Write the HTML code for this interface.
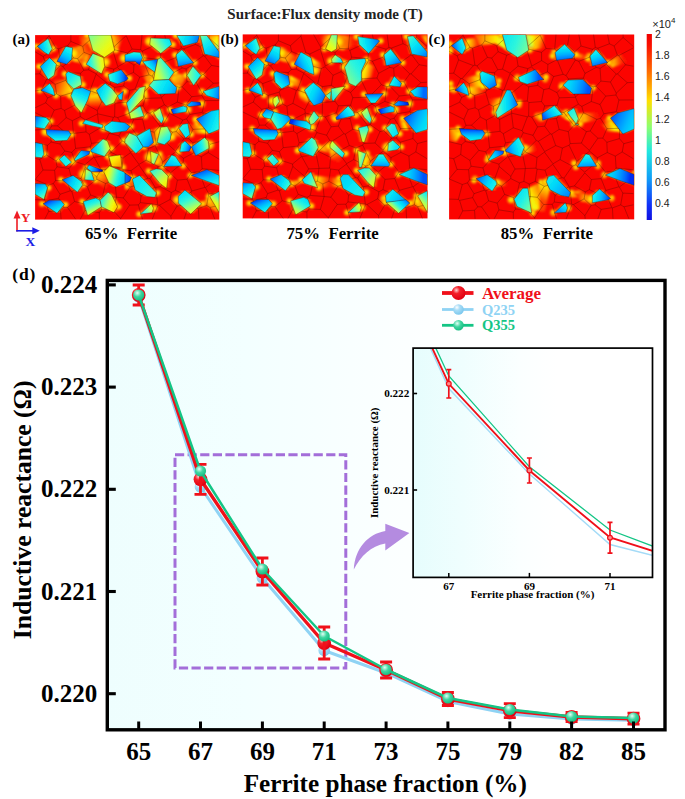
<!DOCTYPE html>
<html><head><meta charset="utf-8"><title>Figure</title>
<style>
html,body{margin:0;padding:0;background:#fff}
svg{display:block;font-family:"Liberation Serif",serif}
.tk{font-size:25px;font-weight:bold}
.ax{font-size:25px;font-weight:bold}
.pl{font-size:15px;font-weight:bold}
</style></head><body>
<svg width="685" height="799" viewBox="0 0 685 799">
<defs>
<linearGradient id="bg" x1="0" x2="1" y1="0" y2="0"><stop offset="0" stop-color="#eefefe"/><stop offset="0.25" stop-color="#f3ffff"/><stop offset="0.5" stop-color="#fbffff"/><stop offset="0.65" stop-color="#ffffff"/></linearGradient>
<linearGradient id="bg2" x1="0" x2="1" y1="0" y2="0"><stop offset="0" stop-color="#e6fdfd"/><stop offset="0.2" stop-color="#effefe"/><stop offset="0.45" stop-color="#fbffff"/><stop offset="0.6" stop-color="#ffffff"/></linearGradient>
<radialGradient id="mr" cx="0.35" cy="0.3" r="0.7"><stop offset="0" stop-color="#ffd0d0"/><stop offset="0.35" stop-color="#f4202a"/><stop offset="1" stop-color="#e00010"/></radialGradient>
<radialGradient id="mb" cx="0.35" cy="0.3" r="0.7"><stop offset="0" stop-color="#ffffff"/><stop offset="0.4" stop-color="#a8dcf6"/><stop offset="1" stop-color="#7cc8ee"/></radialGradient>
<radialGradient id="mg" cx="0.38" cy="0.32" r="0.75"><stop offset="0" stop-color="#e0fff4"/><stop offset="0.45" stop-color="#3fd6a0"/><stop offset="1" stop-color="#10b87c"/></radialGradient>
<linearGradient id="cb" x1="0" x2="0" y1="0" y2="1">
<stop offset="0" stop-color="#f00000"/><stop offset="0.06" stop-color="#fa1000"/><stop offset="0.2" stop-color="#ff6a00"/><stop offset="0.36" stop-color="#ffe000"/><stop offset="0.5" stop-color="#8cff70"/><stop offset="0.63" stop-color="#20e8e0"/><stop offset="0.78" stop-color="#109cf8"/><stop offset="0.92" stop-color="#1030f8"/><stop offset="1" stop-color="#1010e0"/></linearGradient>

</defs>
<defs>
<radialGradient id="hy"><stop offset="0" stop-color="#fff400"/><stop offset="0.3" stop-color="#ffe000"/><stop offset="0.6" stop-color="#ff9000" stop-opacity="0.85"/><stop offset="1" stop-color="#fc0400" stop-opacity="0"/></radialGradient>
<radialGradient id="ho"><stop offset="0" stop-color="#ffa000"/><stop offset="0.5" stop-color="#ff6000" stop-opacity="0.8"/><stop offset="1" stop-color="#fa0600" stop-opacity="0"/></radialGradient>
<filter id="bl" x="-5%" y="-5%" width="110%" height="110%"><feGaussianBlur stdDeviation="0.8"/></filter>
<filter id="bl3" x="-5%" y="-5%" width="110%" height="110%"><feGaussianBlur stdDeviation="1.2 0.7"/></filter>
<filter id="bl2" x="-5%" y="-5%" width="110%" height="110%"><feGaussianBlur stdDeviation="0.35"/></filter>
</defs>
<defs><path id="vor" d="M9.2 164.9L0 164.6M9.2 164.9L13.2 150M13.2 150L0 144.4M19.5 135.2L20.4 145.4M19.5 135.2L7.9 134.9M20.4 145.4L18.3 148.4M7.9 134.9L0 144.4M18.3 148.4L13.2 150M18.3 148.4L24.9 159.2M24.9 159.2L23.5 163.1M9.2 164.9L10.5 165.9M23.5 163.1L10.5 165.9M76.2 134.1L65.9 134.5M76.4 134L73.5 119.8M73.5 119.8L59.1 122.3M65.9 134.5L59.1 122.3M112.9 143.1L100.1 148.1M112.9 143.1L103.7 129.8M100.1 148.1L95.9 135.6M95.9 135.6L103.7 129.8M76.4 134L86.9 133.7M73.5 119.8L75.8 117.2M75.8 117.2L87.9 123M87.9 123L86.9 133.7M95.9 135.6L88 134.6M88 134.6L86.1 146.9M100.1 148.1L98.6 150.9M98.6 150.9L95.2 151.8M95.2 151.8L86.1 146.9M74.8 146.9L76.2 134.1M74.8 146.9L80.1 149.5M86.9 133.7L88 134.6M80.1 149.5L86.1 146.9M87.9 123L95.4 117.6M103.9 129.3L95.4 117.6M88.4 92.4L82.6 82.5M82.6 82.5L93.6 78.4M95.6 91.7L88.4 92.4M95.6 91.7L98.4 84.7M98.4 84.7L93.6 78.4M126.4 62.8L110.1 63.3M126.5 62.4L119 46.6M119 46.6L107.9 58.1M107.9 58.1L110.1 63.3M161.3 47.5L167.2 58.6M166.9 60.5L167.2 58.6M151.8 46.6L147.1 51.7M161.3 47.5L151.8 46.6M166.9 60.5L156.6 61.6M156.6 61.6L147.1 51.7M35.2 155.7L31.8 145.9M35.2 155.7L36.7 156.3M36.7 156.3L49.1 150.1M35.8 140.7L31.8 145.9M35.8 140.7L45.9 143.6M45.9 143.6L49.1 150.1M24.9 159.2L35.2 155.7M20.4 145.4L31.8 145.9M61.7 141.8L50.1 132M50.1 132L45.9 143.6M49.1 150.1L52.3 151.6M61.7 141.8L61.7 144.1M52.3 151.6L61.7 144.1M65.9 134.5L61.7 141.8M74.8 146.9L70.4 148.4M70.4 148.4L61.7 144.1M39.5 166.4L36.7 156.3M39.5 166.4L32.4 172.3M23.5 163.1L28.6 172.3M32.4 172.3L28.6 172.3M155.9 157.3L162.8 173.2M162.8 173.2L152.1 174.9M149.7 159.6L146.1 170.3M155.9 157.3L149.7 159.6M152.1 174.9L146.1 170.3M135 164.4L142 170.9M135 164.4L124.3 170.1M142 170.9L135.8 181.1M135.8 181.1L124.3 170.1M50.1 132L49.8 129.6M58.7 122.2L49.8 129.6M88.4 92.4L83.9 100.8M87.1 106L83.9 100.8M87.1 106L89.3 106.8M95.6 91.7L101.2 99.3M101.2 99.3L89.3 106.8M87.1 106L75.8 117.2M89.3 106.8L95.5 117.1M107.9 70.8L95.6 71.4M95.6 71.4L92.4 67M107.9 70.8L110.1 63.3M107.9 58.1L99.9 54M99.9 54L94.7 55.1M94.7 55.1L92.4 67M93.6 78.4L95.6 71.4M79.5 81.7L79.8 68.1M82.6 82.5L79.5 81.7M92.4 67L79.8 68.1M156.6 61.6L150.9 70M144.1 52.3L147.1 51.7M144.1 52.3L142.2 67M150.9 70L142.2 67M138.7 50.3L126.5 62.4M129.3 69.7L132.7 71.9M129.3 69.7L126.4 62.8M138.7 50.3L144.1 52.3M132.7 71.9L142.2 67M119 46.6L119.3 44.4M138.7 50.3L134.3 43.6M119.3 44.4L134.3 43.6M147.1 32.9L135.9 38.9M151 33.8L147.1 32.9M151.8 46.6L151 33.8M135.9 38.9L134.3 43.6M161.3 47.5L167.1 39.5M151 33.8L157.2 29.8M157.2 29.8L167.1 39.5M178.2 48.2L168.4 39.5M178.2 48.2L167.2 58.6M167.1 39.5L168.4 39.5M174 3L184.3 12M174 3L174 0M39.5 166.4L48.1 168.6M52.3 151.6L55.5 159.9M55.5 159.9L48.1 168.6M45.1 184.3L49.8 175.4M32.4 172.3L40.7 184.3M49.8 175.4L48.1 168.6M122.6 169.6L120.6 152.3M122.6 169.6L105.2 167.5M105.9 160.9L105.2 167.5M105.9 160.9L120 152M88.2 162.8L94.6 170M95.2 151.8L88.2 162.8M98.6 150.9L105.9 160.9M94.6 170L103.2 169.8M103.2 169.8L105.2 167.5M114.9 143.6L120 152M112.9 143.1L114.9 143.6M124.3 170.1L122.9 170M135 164.4L136.2 157.4M120.6 152.3L125.3 151.5M125.3 151.5L136.2 157.4M149.7 159.6L140.3 155.2M142 170.9L146.1 170.3M140.3 155.2L136.2 157.4M163.3 173.4L163.9 184.3M152.1 174.9L148.8 184.3M122.9 170L117.1 184.3M135.8 181.1L136.1 184.3M103.2 169.8L107.4 184.3M79.5 81.7L78.3 82.3M78.3 82.3L62.6 78.7M62.6 78.7L62.2 75.4M79.8 68.1L78.2 66.5M78.2 66.5L66.5 66.9M62.2 75.4L66.5 66.9M58.7 122.2L55.2 111.7M40.5 113.3L55.2 111.7M40.5 113.3L36.7 117.3M49.8 129.6L40 126.5M36.7 117.3L40 126.5M19.5 135.2L21.9 131.7M35.8 140.7L33.9 133.4M21.9 131.7L33.9 133.4M33.9 133.4L40 126.5M7.9 134.9L4.6 124.2M4.6 124.2L0 123.4M77.9 12.5L70.8 0M77.9 12.5L91.1 0.6M88.6 50.9L79.6 52.3M88.6 50.9L90.3 40.9M90.3 40.9L82.4 32.3M75 49.5L79.6 52.3M75 49.5L78.7 34.1M78.7 34.1L82.4 32.3M94.7 55.1L88.6 50.9M78.2 66.5L79.6 52.3M62.8 58.5L66.5 66.9M73.8 49.5L62.8 58.5M73.8 49.5L75 49.5M101.2 99.3L102.6 99.7M95.5 117.1L106.6 111.1M106.6 111.1L102.6 99.7M129.7 0L131.9 11.5M146.2 13L144.4 0M146.2 13L143.4 14.8M131.9 11.5L143.4 14.8M147.1 32.9L140.3 22.8M135.9 38.9L129.7 26.8M140.3 22.8L129.7 26.8M106.9 0L105.6 14.6M91.1 0.6L97 14M105.6 14.6L97 14M77.8 14.2L92.4 17.9M77.5 14.6L82.7 31.6M82.7 31.6L92.5 26.1M92.5 26.1L92.4 17.9M77.8 14.2L77.9 12.5M92.4 17.9L97 14M169.6 21.1L184.3 13.4M169.6 21.1L176.4 30.3M176.4 30.3L184.3 31.7M160.3 9.3L148.7 13.7M160.3 9.3L165 11.5M165 11.5L168.2 20.6M148.7 13.7L157.8 28.2M157.8 28.2L168.2 20.6M146.2 13L148.7 13.7M158.5 0L160.3 9.3M174 3L165 11.5M169.6 21.1L168.2 20.6M140.3 22.8L143.4 14.8M157.2 29.8L157.8 28.2M168.4 39.5L176.4 30.3M56.4 108.3L54.2 99.2M56.4 108.3L70.1 106.5M54.2 99.2L64.2 93.3M64.2 93.3L73 96.2M70.1 106.5L74.1 98.2M74.1 98.2L73 96.2M55.2 111.7L56.4 108.3M75.8 117.2L70.1 106.5M62.4 79L64.2 93.3M78.3 82.3L73 96.2M83.9 100.8L74.1 98.2M64.2 177.6L64.3 184.3M49.8 175.4L64.2 177.6M94.6 170L85.5 183.4M85.5 183.4L85.6 184.3M67.5 161L64.4 163.1M67.5 161L81.4 162.1M64.4 163.1L66.4 174.6M66.4 174.6L77.7 175M77.7 175L81.4 162.1M70.4 148.4L67.5 161M55.5 159.9L64.4 163.1M80.1 149.5L81.4 162.1M64.2 177.6L66.4 174.6M85.5 183.4L77.7 175M88.2 162.8L81.4 162.1M25.4 175.8L26 184.3M25.4 175.8L13.6 176.4M13.6 176.4L9.5 184.3M28.6 172.3L25.4 175.8M10.5 165.9L13.6 176.4M174.9 172.3L179.8 184.3M174.9 172.3L184.3 170.3M163.3 173.4L171.6 170.4M171.6 170.4L174.9 172.3M170.3 152.5L184.3 142.1M173.7 158.6L184.3 159.1M170.3 152.5L173.7 158.6M171.6 170.4L173.7 158.6M35.7 6.3L35.8 0M35.7 6.3L47.7 11.3M47.7 11.3L58.2 1.7M58.2 1.7L58.7 0M20.8 12.8L14 1M20.8 12.8L23.4 13.7M23.4 13.7L32.7 10.4M32.7 10.4L35.7 6.3M14 1L14 0M77.5 14.6L67.1 19.6M58.2 1.7L63.2 18.4M67.1 19.6L63.2 18.4M78.7 34.1L69 31.6M67.1 19.6L69 31.6M14 1L0 13.3M184.3 135.3L167 133.6M167 133.6L166.2 121.6M166.2 121.6L173.1 117.5M173.1 117.5L184.3 124.3M148.3 123.2L158.2 118M158.2 118L157.7 107.8M140.3 115.9L148.8 103.7M140.5 116.7L148.3 123.2M148.8 103.7L153.7 103.6M157.7 107.8L153.7 103.6M158.2 118L166.2 121.6M173.1 117.5L174.7 109.2M174.7 109.2L170.3 104.1M157.7 107.8L170.3 104.1M113.3 113.5L120 110.7M113.3 113.5L111 125.1M120 110.7L127.7 126.8M111 125.1L123.2 131.6M127.7 126.8L126.8 130.4M123.2 131.6L126.8 130.4M103.9 129.3L111 125.1M106.6 111.1L113.3 113.5M114.9 143.6L123.2 131.6M98.4 84.7L107.4 84.1M102.6 99.7L110 94.9M110 94.9L107.4 84.1M107.9 70.8L111.9 77.6M107.4 84.1L111.9 77.6M129.3 69.7L114.8 78M114.8 78L111.9 77.6M132.3 108.6L121.1 109.1M132.3 108.6L137.3 97.1M121.1 109.1L119.2 97.1M137.3 97.1L127.5 90.2M119.2 97.1L124.8 90.9M127.5 90.2L124.8 90.9M140.5 116.7L127.7 126.8M140.3 115.9L132.3 108.6M120 110.7L121.1 109.1M141.1 96.5L137.3 97.1M148.8 103.7L141.1 96.5M110 94.9L119.2 97.1M141.1 96.5L147.7 84.9M134.4 78.2L147.7 84.9M134.4 78.2L127.5 90.2M114.8 78L124.8 90.9M132.7 71.9L134.4 78.2M126.8 130.4L135.6 137.6M148.3 123.2L148.1 127.2M148.1 127.2L135.6 137.6M125.3 151.5L135.7 138.4M140.3 155.2L142.3 145M142.3 145L135.7 138.4M174.7 109.2L184.3 106.6M170.3 104.1L170.5 94.8M170.5 94.8L184.3 92M169.8 65.5L184.3 65.4M166.9 60.5L169.8 65.5M178.2 48.2L184.3 47.8M120.2 0L118.5 10.7M131.9 11.5L125.7 17.2M125.7 17.2L118.5 10.7M105.6 14.6L107.2 16M118.5 10.7L107.2 16M14.6 94L16.8 90.8M14.6 94L0 94.9M0 77.5L14.8 84.8M14.8 84.8L16.8 90.8M23.4 13.7L25.8 30.7M32.7 10.4L38.3 22.9M38.3 22.9L27.9 31.4M27.9 31.4L25.8 30.7M9.5 25.4L4.6 38.7M4.6 38.7L11.6 44M9.5 25.4L24.3 31.1M11.6 44L13.1 44M24.3 31.1L13.1 44M8.1 21.4L9.5 25.4M20.8 12.8L8.1 21.4M24.3 31.1L25.8 30.7M11.6 44L6.6 54.6M6.6 54.6L12.5 62.9M12.5 62.9L21.5 58.8M21.5 58.8L20 49.2M13.1 44L20 49.2M47.7 11.3L48.9 17.2M63.2 18.4L57.6 20.8M48.9 17.2L57.6 20.8M38.3 22.9L42.6 23.6M48.9 17.2L42.6 23.6M8.1 21.4L0 16.7M37.2 85.6L45.2 81.5M37.2 85.6L38.3 98M50.9 96.8L38.8 98.3M50.9 96.8L50.5 84.9M50.5 84.9L45.2 81.5M31.1 82.5L22.4 90.7M31.9 98.9L22.4 90.7M31.1 82.5L37.2 85.6M31.9 98.9L38.3 98M54.2 99.2L50.9 96.8M40.5 113.3L38.8 98.3M62.4 79L50.5 84.9M62.2 75.4L50.2 69M50.2 69L44.2 71.8M44.2 71.8L45.2 81.5M57.6 20.8L53.4 34.7M42.6 23.6L48.7 35.2M48.7 35.2L53.4 34.7M62.8 58.5L54.8 55.6M50.2 69L53.6 55.9M54.8 55.6L53.6 55.9M73.8 49.5L61 39.1M54.8 55.6L61 39.1M69 31.6L60.8 38.6M53.4 34.7L60.8 38.6M25.5 61L36.5 57.7M25.5 61L26 73.3M36.5 57.7L40.1 69.8M40.1 69.8L29.4 75.3M26 73.3L29.4 75.3M19.1 75L26 73.3M10.6 67.7L19.1 75M21.5 58.8L25.5 61M12.5 62.9L10.6 67.7M31.1 82.5L29.4 75.3M44.2 71.8L40.1 69.8M19.1 75L14.8 84.8M16.8 90.8L22.4 90.7M12.4 110.2L11.6 120M12.4 110.2L16.1 107M16.1 107L24.9 108.9M20.9 125.9L29.7 115.9M20.9 125.9L11.6 120M29.7 115.9L24.9 108.9M0 107.2L12.4 110.2M4.6 124.2L11.6 120M14.6 94L16.1 107M31.9 98.9L24.9 108.9M36.7 117.3L29.7 115.9M21.9 131.7L20.9 125.9M169.5 93.8L157.8 94.2M169.5 93.8L167.8 77.8M157.8 94.2L151.4 83.8M167.2 77.2L154.7 79.3M154.7 79.3L151.4 83.8M153.7 103.6L157.8 94.2M170.5 94.8L169.5 93.8M184.3 81.3L167.8 77.8M147.7 84.9L151.4 83.8M169.8 65.5L167.2 77.2M150.9 70L154.7 79.3M164.1 136.7L156.3 137.5M164.1 136.7L169.8 152.3M156.3 137.5L152 144.1M152 144.1L156.8 155.9M156.8 155.9L169.8 152.3M167 133.6L164.1 136.7M148.1 127.2L156.3 137.5M142.3 145L152 144.1M155.9 157.3L156.8 155.9M129.7 26.8L126.2 25.6M125.7 17.2L125.4 24.3M126.2 25.6L125.4 24.3M119.3 44.4L117 41M126.2 25.6L117 41M107.2 16L108.9 22.7M125.4 24.3L108.9 22.7M10.6 67.7L0 72.7M37.7 55.6L30.6 45.3M37.7 55.6L45.4 52.6M45.4 52.6L45.5 38.1M45.5 38.1L32.3 37.6M32.3 37.6L30.6 45.3M36.5 57.7L37.7 55.6M20 49.2L30.6 45.3M53.6 55.9L45.4 52.6M48.7 35.2L45.5 38.1M27.9 31.4L32.3 37.6M98.8 29.9L108 25.1M98.8 29.9L98.4 37.3M108 25.1L114 39.8M98.4 37.3L104.6 42M104.6 42L114 39.8M92.5 26.1L98.8 29.9M108.9 22.7L108 25.1M90.3 40.9L98.4 37.3M117 41L114 39.8M99.9 54L104.6 42M6.6 54.6L0 55.9M4.6 38.7L0 38.9" fill="none" stroke="#3a0800" stroke-width="0.45" stroke-opacity="0.7"/></defs>
<defs><clipPath id="cpa"><rect x="35.1" y="35.1" width="184.2" height="184.5"/></clipPath><linearGradient id="g1" gradientUnits="userSpaceOnUse" x1="38" y1="47.2" x2="51.9" y2="44.6"><stop offset="0%" stop-color="#0090ff"/><stop offset="20%" stop-color="#00bbfe"/><stop offset="40%" stop-color="#02dbf7"/><stop offset="60%" stop-color="#13ecef"/><stop offset="80%" stop-color="#40f7cc"/><stop offset="100%" stop-color="#87fe87"/></linearGradient><linearGradient id="g2" gradientUnits="userSpaceOnUse" x1="59.2" y1="62.1" x2="68.7" y2="47.5"><stop offset="0%" stop-color="#0060ff"/><stop offset="20%" stop-color="#0090ff"/><stop offset="40%" stop-color="#00b8ff"/><stop offset="60%" stop-color="#00d8f8"/><stop offset="80%" stop-color="#0ae8f4"/><stop offset="100%" stop-color="#28f4e2"/></linearGradient><linearGradient id="g3" gradientUnits="userSpaceOnUse" x1="78.9" y1="40.2" x2="91.3" y2="43.1"><stop offset="0%" stop-color="#ff2000"/><stop offset="25%" stop-color="#ff4600"/><stop offset="50%" stop-color="#ff7c00"/><stop offset="75%" stop-color="#ffaf00"/><stop offset="100%" stop-color="#ffdc00"/></linearGradient><linearGradient id="g4" gradientUnits="userSpaceOnUse" x1="112.5" y1="43.1" x2="123.4" y2="40.2"><stop offset="0%" stop-color="#ffdc00"/><stop offset="20%" stop-color="#ffb400"/><stop offset="40%" stop-color="#ff8800"/><stop offset="60%" stop-color="#ff5800"/><stop offset="80%" stop-color="#ff3000"/><stop offset="100%" stop-color="#fc1300"/></linearGradient><linearGradient id="g5" gradientUnits="userSpaceOnUse" x1="91.3" y1="36.6" x2="113.2" y2="54.1"><stop offset="0%" stop-color="#87fe87"/><stop offset="33.3%" stop-color="#c0ff49"/><stop offset="66.7%" stop-color="#e9fb16"/><stop offset="100%" stop-color="#ffe800"/></linearGradient><linearGradient id="g6" gradientUnits="userSpaceOnUse" x1="73.1" y1="54.8" x2="88.4" y2="49"><stop offset="0%" stop-color="#fff000"/><stop offset="20%" stop-color="#ffcc00"/><stop offset="40%" stop-color="#ffa800"/><stop offset="60%" stop-color="#ff7e00"/><stop offset="80%" stop-color="#ff5300"/><stop offset="100%" stop-color="#ff3000"/></linearGradient><linearGradient id="g7" gradientUnits="userSpaceOnUse" x1="78.2" y1="59.2" x2="88.4" y2="61.4"><stop offset="0%" stop-color="#ff2000"/><stop offset="25%" stop-color="#ff4600"/><stop offset="50%" stop-color="#ff7c00"/><stop offset="75%" stop-color="#ffaf00"/><stop offset="100%" stop-color="#ffdc00"/></linearGradient><linearGradient id="g8" gradientUnits="userSpaceOnUse" x1="87.7" y1="65" x2="104.2" y2="62.8"><stop offset="0%" stop-color="#10eaf0"/><stop offset="20%" stop-color="#2ff5db"/><stop offset="40%" stop-color="#67fca7"/><stop offset="60%" stop-color="#a7ff67"/><stop offset="80%" stop-color="#daff28"/><stop offset="100%" stop-color="#f9f306"/></linearGradient><linearGradient id="g9" gradientUnits="userSpaceOnUse" x1="40.9" y1="66.5" x2="55.1" y2="73.8"><stop offset="0%" stop-color="#00a4ff"/><stop offset="20%" stop-color="#00c8fc"/><stop offset="40%" stop-color="#05e0f6"/><stop offset="60%" stop-color="#19eeeb"/><stop offset="80%" stop-color="#46f8c6"/><stop offset="100%" stop-color="#87fe87"/></linearGradient><linearGradient id="g10" gradientUnits="userSpaceOnUse" x1="66.5" y1="73.5" x2="79.6" y2="88.1"><stop offset="0%" stop-color="#02dbf7"/><stop offset="25%" stop-color="#0eeaf1"/><stop offset="50%" stop-color="#2ef5dc"/><stop offset="75%" stop-color="#67fca7"/><stop offset="100%" stop-color="#aaff64"/></linearGradient><linearGradient id="g11" gradientUnits="userSpaceOnUse" x1="42.4" y1="92" x2="51.9" y2="86.2"><stop offset="0%" stop-color="#0060ff"/><stop offset="20%" stop-color="#0090ff"/><stop offset="40%" stop-color="#00b8ff"/><stop offset="60%" stop-color="#00d8f8"/><stop offset="80%" stop-color="#0ae8f4"/><stop offset="100%" stop-color="#28f4e2"/></linearGradient><linearGradient id="g12" gradientUnits="userSpaceOnUse" x1="72.3" y1="91.3" x2="56.3" y2="85.5"><stop offset="0%" stop-color="#fff000"/><stop offset="25%" stop-color="#ffc800"/><stop offset="50%" stop-color="#ffa000"/><stop offset="75%" stop-color="#ff7000"/><stop offset="100%" stop-color="#ff4000"/></linearGradient><linearGradient id="g13" gradientUnits="userSpaceOnUse" x1="88.4" y1="90.1" x2="78.9" y2="111.8"><stop offset="0%" stop-color="#00a4ff"/><stop offset="14.3%" stop-color="#00c7fc"/><stop offset="28.6%" stop-color="#04dff6"/><stop offset="42.9%" stop-color="#15eced"/><stop offset="57.1%" stop-color="#3cf7d0"/><stop offset="71.4%" stop-color="#78fd96"/><stop offset="85.7%" stop-color="#b7ff53"/><stop offset="100%" stop-color="#e6fc1a"/></linearGradient><linearGradient id="g14" gradientUnits="userSpaceOnUse" x1="95" y1="94.2" x2="95.7" y2="107.4"><stop offset="0%" stop-color="#fff000"/><stop offset="16.7%" stop-color="#ffcb00"/><stop offset="33.3%" stop-color="#ffa700"/><stop offset="50%" stop-color="#ff7c00"/><stop offset="66.7%" stop-color="#ff5000"/><stop offset="83.3%" stop-color="#ff2d00"/><stop offset="100%" stop-color="#fc1300"/></linearGradient><linearGradient id="g15" gradientUnits="userSpaceOnUse" x1="97.2" y1="91.3" x2="116.4" y2="98.6"><stop offset="0%" stop-color="#00befe"/><stop offset="16.7%" stop-color="#02dbf7"/><stop offset="33.3%" stop-color="#0eeaf2"/><stop offset="50%" stop-color="#2ef5dc"/><stop offset="66.7%" stop-color="#69fca5"/><stop offset="83.3%" stop-color="#acff62"/><stop offset="100%" stop-color="#e0ff20"/></linearGradient><linearGradient id="g16" gradientUnits="userSpaceOnUse" x1="108.1" y1="77.4" x2="125.6" y2="78.2"><stop offset="0%" stop-color="#64fcaa"/><stop offset="14.3%" stop-color="#2cf5de"/><stop offset="28.6%" stop-color="#0eeaf1"/><stop offset="42.9%" stop-color="#02dbf7"/><stop offset="57.1%" stop-color="#00c1fd"/><stop offset="71.4%" stop-color="#009eff"/><stop offset="85.7%" stop-color="#0075ff"/><stop offset="100%" stop-color="#0040f8"/></linearGradient><linearGradient id="g17" gradientUnits="userSpaceOnUse" x1="118.3" y1="95.7" x2="122.7" y2="94.2"><stop offset="0%" stop-color="#0ae8f4"/><stop offset="33.3%" stop-color="#00d8f8"/><stop offset="66.7%" stop-color="#00b8ff"/><stop offset="100%" stop-color="#0090ff"/></linearGradient><linearGradient id="g18" gradientUnits="userSpaceOnUse" x1="35.8" y1="117.6" x2="49" y2="124.2"><stop offset="0%" stop-color="#0060ff"/><stop offset="16.7%" stop-color="#0091ff"/><stop offset="33.3%" stop-color="#00baff"/><stop offset="50%" stop-color="#01daf8"/><stop offset="66.7%" stop-color="#0eeaf2"/><stop offset="83.3%" stop-color="#32f5d9"/><stop offset="100%" stop-color="#72fd9c"/></linearGradient><linearGradient id="g19" gradientUnits="userSpaceOnUse" x1="84" y1="122" x2="101.5" y2="127.8"><stop offset="0%" stop-color="#05e0f6"/><stop offset="50%" stop-color="#12ebf0"/><stop offset="100%" stop-color="#28f4e2"/></linearGradient><linearGradient id="g20" gradientUnits="userSpaceOnUse" x1="105.9" y1="126.4" x2="129.3" y2="124.9"><stop offset="0%" stop-color="#19eeeb"/><stop offset="33.3%" stop-color="#03ddf7"/><stop offset="66.7%" stop-color="#00bdfe"/><stop offset="100%" stop-color="#0090ff"/></linearGradient><linearGradient id="g21" gradientUnits="userSpaceOnUse" x1="168.1" y1="39.5" x2="153.5" y2="49"><stop offset="0%" stop-color="#0ae8f4"/><stop offset="25%" stop-color="#26f3e3"/><stop offset="50%" stop-color="#5efbb0"/><stop offset="75%" stop-color="#a0ff6e"/><stop offset="100%" stop-color="#d5ff2e"/></linearGradient><linearGradient id="g22" gradientUnits="userSpaceOnUse" x1="178.3" y1="37.3" x2="197.7" y2="41.7"><stop offset="0%" stop-color="#28f4e2"/><stop offset="25%" stop-color="#09e6f4"/><stop offset="50%" stop-color="#00d0fa"/><stop offset="75%" stop-color="#00a9ff"/><stop offset="100%" stop-color="#0078ff"/></linearGradient><linearGradient id="g23" gradientUnits="userSpaceOnUse" x1="207.5" y1="35.8" x2="218.4" y2="46.1"><stop offset="0%" stop-color="#ff7000"/><stop offset="20%" stop-color="#ffa000"/><stop offset="40%" stop-color="#ffc800"/><stop offset="60%" stop-color="#fff000"/><stop offset="80%" stop-color="#e0ff20"/><stop offset="100%" stop-color="#aaff64"/></linearGradient><linearGradient id="g24" gradientUnits="userSpaceOnUse" x1="200.9" y1="37.3" x2="218.4" y2="57.4"><stop offset="0%" stop-color="#64fcaa"/><stop offset="16.7%" stop-color="#2df5dd"/><stop offset="33.3%" stop-color="#0feaf1"/><stop offset="50%" stop-color="#03dcf7"/><stop offset="66.7%" stop-color="#00c3fd"/><stop offset="83.3%" stop-color="#00a1ff"/><stop offset="100%" stop-color="#0078ff"/></linearGradient><linearGradient id="g25" gradientUnits="userSpaceOnUse" x1="133.8" y1="51.9" x2="133.8" y2="62.8"><stop offset="0%" stop-color="#46f8c6"/><stop offset="16.7%" stop-color="#19eeeb"/><stop offset="33.3%" stop-color="#05e0f6"/><stop offset="50%" stop-color="#00c8fc"/><stop offset="66.7%" stop-color="#00a4ff"/><stop offset="83.3%" stop-color="#0078ff"/><stop offset="100%" stop-color="#0040f8"/></linearGradient><linearGradient id="g26" gradientUnits="userSpaceOnUse" x1="154.9" y1="59.6" x2="146.9" y2="66.2"><stop offset="0%" stop-color="#0060ff"/><stop offset="20%" stop-color="#0090ff"/><stop offset="40%" stop-color="#00b8ff"/><stop offset="60%" stop-color="#00d8f8"/><stop offset="80%" stop-color="#0ae8f4"/><stop offset="100%" stop-color="#28f4e2"/></linearGradient><linearGradient id="g27" gradientUnits="userSpaceOnUse" x1="154.2" y1="76.7" x2="142.5" y2="72.3"><stop offset="0%" stop-color="#fff000"/><stop offset="20%" stop-color="#ffc800"/><stop offset="40%" stop-color="#ffa000"/><stop offset="60%" stop-color="#ff7000"/><stop offset="80%" stop-color="#ff4000"/><stop offset="100%" stop-color="#ff2000"/></linearGradient><linearGradient id="g28" gradientUnits="userSpaceOnUse" x1="153.9" y1="78.9" x2="173.5" y2="71.6"><stop offset="0%" stop-color="#f9f306"/><stop offset="20%" stop-color="#daff28"/><stop offset="40%" stop-color="#a7ff67"/><stop offset="60%" stop-color="#67fca7"/><stop offset="80%" stop-color="#2ff5db"/><stop offset="100%" stop-color="#10eaf0"/></linearGradient><linearGradient id="g29" gradientUnits="userSpaceOnUse" x1="180.5" y1="50.4" x2="183.4" y2="67.2"><stop offset="0%" stop-color="#46f8c6"/><stop offset="16.7%" stop-color="#1cefea"/><stop offset="33.3%" stop-color="#07e3f5"/><stop offset="50%" stop-color="#00d0fa"/><stop offset="66.7%" stop-color="#00b1ff"/><stop offset="83.3%" stop-color="#008cff"/><stop offset="100%" stop-color="#0060ff"/></linearGradient><linearGradient id="g30" gradientUnits="userSpaceOnUse" x1="173.2" y1="75.3" x2="183.4" y2="86.9"><stop offset="0%" stop-color="#ffdc00"/><stop offset="25%" stop-color="#ffb900"/><stop offset="50%" stop-color="#ff9400"/><stop offset="75%" stop-color="#ff6a00"/><stop offset="100%" stop-color="#ff4000"/></linearGradient><linearGradient id="g31" gradientUnits="userSpaceOnUse" x1="187.5" y1="75.3" x2="200.6" y2="75.3"><stop offset="0%" stop-color="#9cfe72"/><stop offset="33.3%" stop-color="#60fbae"/><stop offset="66.7%" stop-color="#2cf5de"/><stop offset="100%" stop-color="#10eaf0"/></linearGradient><linearGradient id="g32" gradientUnits="userSpaceOnUse" x1="151.3" y1="81.8" x2="175.8" y2="93.9"><stop offset="0%" stop-color="#64fcaa"/><stop offset="20%" stop-color="#2af4e0"/><stop offset="40%" stop-color="#0ce9f3"/><stop offset="60%" stop-color="#01daf8"/><stop offset="80%" stop-color="#00bdfe"/><stop offset="100%" stop-color="#0098ff"/></linearGradient><linearGradient id="g33" gradientUnits="userSpaceOnUse" x1="130.8" y1="94.2" x2="143.2" y2="100.1"><stop offset="0%" stop-color="#0ae8f4"/><stop offset="20%" stop-color="#27f4e3"/><stop offset="40%" stop-color="#5ffbae"/><stop offset="60%" stop-color="#a2ff6c"/><stop offset="80%" stop-color="#d7ff2b"/><stop offset="100%" stop-color="#f9f306"/></linearGradient><linearGradient id="g34" gradientUnits="userSpaceOnUse" x1="144" y1="95.7" x2="149.1" y2="100.1"><stop offset="0%" stop-color="#fff000"/><stop offset="20%" stop-color="#ffc800"/><stop offset="40%" stop-color="#ffa000"/><stop offset="60%" stop-color="#ff7000"/><stop offset="80%" stop-color="#ff4000"/><stop offset="100%" stop-color="#ff2000"/></linearGradient><linearGradient id="g35" gradientUnits="userSpaceOnUse" x1="141.8" y1="108.8" x2="130.1" y2="118.3"><stop offset="0%" stop-color="#28f4e2"/><stop offset="33.3%" stop-color="#69fca5"/><stop offset="66.7%" stop-color="#b1ff5b"/><stop offset="100%" stop-color="#e6fc1a"/></linearGradient><linearGradient id="g36" gradientUnits="userSpaceOnUse" x1="203.5" y1="92" x2="219.2" y2="94.2"><stop offset="0%" stop-color="#34f6d7"/><stop offset="20%" stop-color="#12ebef"/><stop offset="40%" stop-color="#03ddf7"/><stop offset="60%" stop-color="#00c4fc"/><stop offset="80%" stop-color="#00a2ff"/><stop offset="100%" stop-color="#0078ff"/></linearGradient><linearGradient id="g37" gradientUnits="userSpaceOnUse" x1="187.8" y1="105.2" x2="200.2" y2="103.7"><stop offset="0%" stop-color="#00b8ff"/><stop offset="33.3%" stop-color="#0090ff"/><stop offset="66.7%" stop-color="#0060ff"/><stop offset="100%" stop-color="#0020f0"/></linearGradient><linearGradient id="g38" gradientUnits="userSpaceOnUse" x1="171.4" y1="110.3" x2="186.6" y2="109.1"><stop offset="0%" stop-color="#002df3"/><stop offset="16.7%" stop-color="#0066ff"/><stop offset="33.3%" stop-color="#0093ff"/><stop offset="50%" stop-color="#00b8ff"/><stop offset="66.7%" stop-color="#00d6f8"/><stop offset="83.3%" stop-color="#09e6f5"/><stop offset="100%" stop-color="#22f2e6"/></linearGradient><linearGradient id="g39" gradientUnits="userSpaceOnUse" x1="197.7" y1="118.3" x2="218.4" y2="126.4"><stop offset="0%" stop-color="#0060ff"/><stop offset="20%" stop-color="#0090ff"/><stop offset="40%" stop-color="#00b8ff"/><stop offset="60%" stop-color="#00d8f8"/><stop offset="80%" stop-color="#0ae8f4"/><stop offset="100%" stop-color="#28f4e2"/></linearGradient><linearGradient id="g40" gradientUnits="userSpaceOnUse" x1="154.2" y1="113.2" x2="163" y2="119.1"><stop offset="0%" stop-color="#e0ff20"/><stop offset="33.3%" stop-color="#aaff64"/><stop offset="66.7%" stop-color="#64fcaa"/><stop offset="100%" stop-color="#28f4e2"/></linearGradient><linearGradient id="g41" gradientUnits="userSpaceOnUse" x1="197.3" y1="123.4" x2="192.9" y2="124.9"><stop offset="0%" stop-color="#fff000"/><stop offset="20%" stop-color="#ffcc00"/><stop offset="40%" stop-color="#ffa800"/><stop offset="60%" stop-color="#ff7e00"/><stop offset="80%" stop-color="#ff5300"/><stop offset="100%" stop-color="#ff3000"/></linearGradient><linearGradient id="g42" gradientUnits="userSpaceOnUse" x1="57.7" y1="129.7" x2="57.7" y2="141.4"><stop offset="0%" stop-color="#0053fc"/><stop offset="20%" stop-color="#008aff"/><stop offset="40%" stop-color="#00b6ff"/><stop offset="60%" stop-color="#00d9f8"/><stop offset="80%" stop-color="#0ee9f2"/><stop offset="100%" stop-color="#34f6d7"/></linearGradient><linearGradient id="g43" gradientUnits="userSpaceOnUse" x1="35.5" y1="144" x2="43.4" y2="154.9"><stop offset="0%" stop-color="#00a4ff"/><stop offset="33.3%" stop-color="#00cdfa"/><stop offset="66.7%" stop-color="#08e5f5"/><stop offset="100%" stop-color="#28f4e2"/></linearGradient><linearGradient id="g44" gradientUnits="userSpaceOnUse" x1="91.3" y1="151" x2="110" y2="148.4"><stop offset="0%" stop-color="#00a4ff"/><stop offset="14.3%" stop-color="#00c7fc"/><stop offset="28.6%" stop-color="#04dff6"/><stop offset="42.9%" stop-color="#15eced"/><stop offset="57.1%" stop-color="#3cf7d0"/><stop offset="71.4%" stop-color="#78fd96"/><stop offset="85.7%" stop-color="#b7ff53"/><stop offset="100%" stop-color="#e6fc1a"/></linearGradient><linearGradient id="g45" gradientUnits="userSpaceOnUse" x1="87.7" y1="152" x2="75.3" y2="160.3"><stop offset="0%" stop-color="#0060ff"/><stop offset="20%" stop-color="#0090ff"/><stop offset="40%" stop-color="#00b8ff"/><stop offset="60%" stop-color="#00d8f8"/><stop offset="80%" stop-color="#0ae8f4"/><stop offset="100%" stop-color="#28f4e2"/></linearGradient><linearGradient id="g46" gradientUnits="userSpaceOnUse" x1="59.9" y1="159.3" x2="70.9" y2="162.2"><stop offset="0%" stop-color="#0ae8f4"/><stop offset="100%" stop-color="#28f4e2"/></linearGradient><linearGradient id="g47" gradientUnits="userSpaceOnUse" x1="111" y1="156.4" x2="120.5" y2="168.1"><stop offset="0%" stop-color="#e0ff20"/><stop offset="33.3%" stop-color="#ffe900"/><stop offset="66.7%" stop-color="#ffbb00"/><stop offset="100%" stop-color="#ff8800"/></linearGradient><linearGradient id="g48" gradientUnits="userSpaceOnUse" x1="87.2" y1="168.1" x2="101.8" y2="171.1"><stop offset="0%" stop-color="#0ae8f4"/><stop offset="16.7%" stop-color="#00d8f8"/><stop offset="33.3%" stop-color="#00b8ff"/><stop offset="50%" stop-color="#0090ff"/><stop offset="66.7%" stop-color="#0060ff"/><stop offset="83.3%" stop-color="#0020f0"/><stop offset="100%" stop-color="#000bc5"/></linearGradient><linearGradient id="g49" gradientUnits="userSpaceOnUse" x1="95.7" y1="172.4" x2="104.5" y2="186.3"><stop offset="0%" stop-color="#fff000"/><stop offset="20%" stop-color="#ffc800"/><stop offset="40%" stop-color="#ffa000"/><stop offset="60%" stop-color="#ff7000"/><stop offset="80%" stop-color="#ff4000"/><stop offset="100%" stop-color="#ff2000"/></linearGradient><linearGradient id="g50" gradientUnits="userSpaceOnUse" x1="85.2" y1="174.6" x2="93.1" y2="179.3"><stop offset="0%" stop-color="#b5ff56"/><stop offset="33.3%" stop-color="#69fca5"/><stop offset="66.7%" stop-color="#26f3e3"/><stop offset="100%" stop-color="#08e5f5"/></linearGradient><linearGradient id="g51" gradientUnits="userSpaceOnUse" x1="105.2" y1="173.9" x2="130" y2="179.7"><stop offset="0%" stop-color="#ffe800"/><stop offset="11.1%" stop-color="#e7fc19"/><stop offset="22.2%" stop-color="#b8ff52"/><stop offset="33.3%" stop-color="#79fd95"/><stop offset="44.4%" stop-color="#3cf7cf"/><stop offset="55.6%" stop-color="#15eced"/><stop offset="66.7%" stop-color="#04def6"/><stop offset="77.8%" stop-color="#00c6fc"/><stop offset="88.9%" stop-color="#00a3ff"/><stop offset="100%" stop-color="#0078ff"/></linearGradient><linearGradient id="g52" gradientUnits="userSpaceOnUse" x1="63.3" y1="179.3" x2="81.1" y2="188.1"><stop offset="0%" stop-color="#0060ff"/><stop offset="16.7%" stop-color="#008eff"/><stop offset="33.3%" stop-color="#00b5ff"/><stop offset="50%" stop-color="#00d5f9"/><stop offset="66.7%" stop-color="#09e6f5"/><stop offset="83.3%" stop-color="#23f2e5"/><stop offset="100%" stop-color="#58fab5"/></linearGradient><linearGradient id="g53" gradientUnits="userSpaceOnUse" x1="35.5" y1="184.6" x2="44.9" y2="198.3"><stop offset="0%" stop-color="#0078ff"/><stop offset="16.7%" stop-color="#00a6ff"/><stop offset="33.3%" stop-color="#00cbfb"/><stop offset="50%" stop-color="#06e2f5"/><stop offset="66.7%" stop-color="#1ff0e7"/><stop offset="83.3%" stop-color="#55fab8"/><stop offset="100%" stop-color="#9cfe72"/></linearGradient><linearGradient id="g54" gradientUnits="userSpaceOnUse" x1="51.9" y1="199.7" x2="57.7" y2="212.9"><stop offset="0%" stop-color="#0040f8"/><stop offset="16.7%" stop-color="#0076ff"/><stop offset="33.3%" stop-color="#00a0ff"/><stop offset="50%" stop-color="#00c3fd"/><stop offset="66.7%" stop-color="#03ddf7"/><stop offset="83.3%" stop-color="#12ebf0"/><stop offset="100%" stop-color="#34f6d7"/></linearGradient><linearGradient id="g55" gradientUnits="userSpaceOnUse" x1="85.5" y1="200.9" x2="90.6" y2="214.3"><stop offset="0%" stop-color="#02dbf7"/><stop offset="20%" stop-color="#10eaf0"/><stop offset="40%" stop-color="#34f6d7"/><stop offset="60%" stop-color="#72fd9c"/><stop offset="80%" stop-color="#b5ff56"/><stop offset="100%" stop-color="#e6fc1a"/></linearGradient><linearGradient id="g56" gradientUnits="userSpaceOnUse" x1="116.9" y1="203.8" x2="121.2" y2="208.2"><stop offset="0%" stop-color="#ffc800"/><stop offset="25%" stop-color="#ff9a00"/><stop offset="50%" stop-color="#ff6400"/><stop offset="75%" stop-color="#ff3400"/><stop offset="100%" stop-color="#fc1300"/></linearGradient><linearGradient id="g57" gradientUnits="userSpaceOnUse" x1="100.8" y1="200.9" x2="116.4" y2="207"><stop offset="0%" stop-color="#22f2e6"/><stop offset="20%" stop-color="#58fab5"/><stop offset="40%" stop-color="#9cfe72"/><stop offset="60%" stop-color="#d5ff2e"/><stop offset="80%" stop-color="#f9f306"/><stop offset="100%" stop-color="#ffd000"/></linearGradient><linearGradient id="g58" gradientUnits="userSpaceOnUse" x1="126.2" y1="139.6" x2="141.4" y2="145.4"><stop offset="0%" stop-color="#9cfe72"/><stop offset="33.3%" stop-color="#58fab5"/><stop offset="66.7%" stop-color="#22f2e6"/><stop offset="100%" stop-color="#08e5f5"/></linearGradient><linearGradient id="g59" gradientUnits="userSpaceOnUse" x1="139.3" y1="135.2" x2="152.4" y2="143.7"><stop offset="0%" stop-color="#22f2e6"/><stop offset="25%" stop-color="#07e4f5"/><stop offset="50%" stop-color="#00cdfa"/><stop offset="75%" stop-color="#00a7ff"/><stop offset="100%" stop-color="#0078ff"/></linearGradient><linearGradient id="g60" gradientUnits="userSpaceOnUse" x1="152.7" y1="135.2" x2="158.9" y2="135.2"><stop offset="0%" stop-color="#ff3000"/><stop offset="20%" stop-color="#ff5800"/><stop offset="40%" stop-color="#ff8800"/><stop offset="60%" stop-color="#ffb400"/><stop offset="80%" stop-color="#ffdc00"/><stop offset="100%" stop-color="#f0f710"/></linearGradient><linearGradient id="g61" gradientUnits="userSpaceOnUse" x1="159.3" y1="130.8" x2="168.8" y2="141.1"><stop offset="0%" stop-color="#c5ff42"/><stop offset="33.3%" stop-color="#80fd8e"/><stop offset="66.7%" stop-color="#3af6d1"/><stop offset="100%" stop-color="#10eaf0"/></linearGradient><linearGradient id="g62" gradientUnits="userSpaceOnUse" x1="171.7" y1="130.1" x2="182.7" y2="137.4"><stop offset="0%" stop-color="#f0f710"/><stop offset="20%" stop-color="#ffd800"/><stop offset="40%" stop-color="#ffac00"/><stop offset="60%" stop-color="#ff7a00"/><stop offset="80%" stop-color="#ff4500"/><stop offset="100%" stop-color="#ff2000"/></linearGradient><linearGradient id="g63" gradientUnits="userSpaceOnUse" x1="179.7" y1="129.4" x2="189.2" y2="134.5"><stop offset="0%" stop-color="#28f4e2"/><stop offset="50%" stop-color="#12ebf0"/><stop offset="100%" stop-color="#05e0f6"/></linearGradient><linearGradient id="g64" gradientUnits="userSpaceOnUse" x1="191.4" y1="130.8" x2="202.4" y2="127.2"><stop offset="0%" stop-color="#ff2000"/><stop offset="20%" stop-color="#ff4000"/><stop offset="40%" stop-color="#ff7000"/><stop offset="60%" stop-color="#ffa000"/><stop offset="80%" stop-color="#ffc800"/><stop offset="100%" stop-color="#fff000"/></linearGradient><linearGradient id="g65" gradientUnits="userSpaceOnUse" x1="180.5" y1="145.4" x2="191" y2="148.4"><stop offset="0%" stop-color="#58fab5"/><stop offset="14.3%" stop-color="#23f2e5"/><stop offset="28.6%" stop-color="#09e6f5"/><stop offset="42.9%" stop-color="#00d4f9"/><stop offset="57.1%" stop-color="#00b5ff"/><stop offset="71.4%" stop-color="#008dff"/><stop offset="85.7%" stop-color="#005eff"/><stop offset="100%" stop-color="#0020f0"/></linearGradient><linearGradient id="g66" gradientUnits="userSpaceOnUse" x1="192.2" y1="147.6" x2="209.4" y2="144"><stop offset="0%" stop-color="#0078ff"/><stop offset="14.3%" stop-color="#00a6ff"/><stop offset="28.6%" stop-color="#00cbfb"/><stop offset="42.9%" stop-color="#06e2f5"/><stop offset="57.1%" stop-color="#1ef0e8"/><stop offset="71.4%" stop-color="#53faba"/><stop offset="85.7%" stop-color="#99fe75"/><stop offset="100%" stop-color="#d5ff2e"/></linearGradient><linearGradient id="g67" gradientUnits="userSpaceOnUse" x1="151" y1="154.2" x2="157.8" y2="156.4"><stop offset="0%" stop-color="#f0f710"/><stop offset="50%" stop-color="#b8ff53"/><stop offset="100%" stop-color="#64fcaa"/></linearGradient><linearGradient id="g68" gradientUnits="userSpaceOnUse" x1="157.8" y1="158.6" x2="165.1" y2="160"><stop offset="0%" stop-color="#ffdc00"/><stop offset="25%" stop-color="#ffaf00"/><stop offset="50%" stop-color="#ff7c00"/><stop offset="75%" stop-color="#ff4600"/><stop offset="100%" stop-color="#ff2000"/></linearGradient><linearGradient id="g69" gradientUnits="userSpaceOnUse" x1="168.8" y1="165.9" x2="173.2" y2="155.7"><stop offset="0%" stop-color="#00b0ff"/><stop offset="33.3%" stop-color="#00d4f9"/><stop offset="66.7%" stop-color="#09e7f4"/><stop offset="100%" stop-color="#28f4e2"/></linearGradient><linearGradient id="g70" gradientUnits="userSpaceOnUse" x1="153.5" y1="170" x2="167" y2="187"><stop offset="0%" stop-color="#34f6d7"/><stop offset="25%" stop-color="#72fd9c"/><stop offset="50%" stop-color="#b5ff56"/><stop offset="75%" stop-color="#e6fc1a"/><stop offset="100%" stop-color="#ffe800"/></linearGradient><linearGradient id="g71" gradientUnits="userSpaceOnUse" x1="133" y1="179.7" x2="154.9" y2="195.8"><stop offset="0%" stop-color="#05e0f6"/><stop offset="50%" stop-color="#19eeeb"/><stop offset="100%" stop-color="#46f8c6"/></linearGradient><linearGradient id="g72" gradientUnits="userSpaceOnUse" x1="125" y1="177.6" x2="131.1" y2="178.3"><stop offset="0%" stop-color="#0078ff"/><stop offset="100%" stop-color="#0040f8"/></linearGradient><linearGradient id="g73" gradientUnits="userSpaceOnUse" x1="207.5" y1="170" x2="212.6" y2="184.1"><stop offset="0%" stop-color="#0060ff"/><stop offset="20%" stop-color="#008eff"/><stop offset="40%" stop-color="#00b5ff"/><stop offset="60%" stop-color="#00d4f9"/><stop offset="80%" stop-color="#08e5f5"/><stop offset="100%" stop-color="#22f2e6"/></linearGradient><linearGradient id="g74" gradientUnits="userSpaceOnUse" x1="181.6" y1="192.9" x2="191" y2="214.1"><stop offset="0%" stop-color="#02dbf7"/><stop offset="20%" stop-color="#10eaf0"/><stop offset="40%" stop-color="#34f6d7"/><stop offset="60%" stop-color="#72fd9c"/><stop offset="80%" stop-color="#b5ff56"/><stop offset="100%" stop-color="#e6fc1a"/></linearGradient><linearGradient id="g75" gradientUnits="userSpaceOnUse" x1="208.9" y1="199.5" x2="203.1" y2="204.6"><stop offset="0%" stop-color="#fff000"/><stop offset="20%" stop-color="#ffc800"/><stop offset="40%" stop-color="#ffa000"/><stop offset="60%" stop-color="#ff7000"/><stop offset="80%" stop-color="#ff4000"/><stop offset="100%" stop-color="#ff2000"/></linearGradient><linearGradient id="g76" gradientUnits="userSpaceOnUse" x1="218.4" y1="192.9" x2="212.3" y2="200.2"><stop offset="0%" stop-color="#19eeeb"/><stop offset="25%" stop-color="#41f7ca"/><stop offset="50%" stop-color="#7cfd92"/><stop offset="75%" stop-color="#b9ff51"/><stop offset="100%" stop-color="#e6fc1a"/></linearGradient><linearGradient id="g77" gradientUnits="userSpaceOnUse" x1="141.8" y1="213.3" x2="152.7" y2="207.5"><stop offset="0%" stop-color="#10eaf0"/><stop offset="25%" stop-color="#34f6d7"/><stop offset="50%" stop-color="#72fd9c"/><stop offset="75%" stop-color="#b5ff56"/><stop offset="100%" stop-color="#e6fc1a"/></linearGradient><linearGradient id="g78" gradientUnits="userSpaceOnUse" x1="125.7" y1="184.9" x2="131.6" y2="187"><stop offset="0%" stop-color="#fff000"/><stop offset="25%" stop-color="#ffc800"/><stop offset="50%" stop-color="#ffa000"/><stop offset="75%" stop-color="#ff7000"/><stop offset="100%" stop-color="#ff4000"/></linearGradient></defs>
<rect x="35.1" y="35.1" width="184.2" height="184.5" fill="#fc0400"/>
<g clip-path="url(#cpa)">
<g filter="url(#bl3)" fill="#ffb000" opacity="0.55"><g transform="translate(-2.2,0)"><polygon points="37.3,46.4 48.2,38.5 52.2,48.7 48.5,54.8 43.9,51.9"/><polygon points="57,61.4 65.8,46.4 72.6,47.8 71.6,59.2 66.5,64.3"/><polygon points="88.4,35.1 111,35.1 114.7,50.4 104.5,57.4 92.8,50.4"/><polygon points="86.2,64.3 92.8,53.4 103.7,57.7 104.7,66.5 101.5,73.8"/><polygon points="40.2,66.5 49.7,57.7 56.3,64.3 54.1,75.3 48.2,79.6 44.6,73.8"/><polygon points="65.8,73.8 68.2,71.6 80.4,76.4 81.8,84.7 73.8,89.1 67.2,82.6"/><polygon points="40.9,90.6 49.7,83.3 53.4,89.1 54.8,95.7"/><polygon points="70.9,95.7 73.8,89.1 82.6,87.7 90.6,91.3 87.7,100.1 81.4,112.9 75.3,105.9"/><polygon points="96.4,90.6 105.2,83.3 111.8,88.4 117.6,95.7 113.9,103 105.9,105.9 101.5,100.1"/><polygon points="108.1,74.5 121.2,69.7 128.1,78.2 126.4,80.4 117.6,84 109.6,81.1"/><polygon points="117.6,95.7 123.4,91.3 122,100.1 119.1,99.3"/><polygon points="35.1,116.1 46.1,117.6 49.7,121.2 44.6,128.7 35.1,127.2"/><polygon points="82.6,123.4 85.5,119.8 103,124.9 102.3,128 91.3,125.8"/><polygon points="104.5,126.4 111.8,121.2 124.9,122.7 130,126.4 126.4,130.9 111.8,133.1 105.2,130.1"/><polygon points="150.5,38 169.5,38.8 171.7,44.6 160.8,53.4 149.8,44.6"/><polygon points="176.8,35.5 199.5,35.5 197.3,42.4 183.4,46.1"/><polygon points="200.2,35.5 206.8,35.5 219.2,51.9 219.2,57.7 204.6,54.1"/><polygon points="125,54.8 129.4,53.4 133.8,51.9 140.3,52.6 142.5,57.7 139.6,65 135.2,61.4 125,61.4"/><polygon points="142.5,61.4 157.8,59.2 154.9,72.3 146.9,66.5"/><polygon points="154.9,72.3 157.8,59.2 160.8,57.7 173.9,72.3 168.8,79.6 153.5,80.4"/><polygon points="176.1,54.8 181.9,49.7 193.6,62.8 178.3,66.5"/><polygon points="187,75.3 192.9,66.2 200.9,75.3 193.6,85.5"/><polygon points="149.1,85.5 153.5,80.4 168.8,79.6 176.8,87.7 175.4,93.5 158.6,94.2"/><polygon points="126.5,103 139.6,87.7 145.4,86.2 143.2,98.6 129.4,113.2"/><polygon points="129.4,113.2 140.3,105.9 144,116.1 130.8,119.1"/><polygon points="203.1,91.3 219.2,86.2 219.2,99.3 206.8,95.7"/><polygon points="187,105.2 191.4,101.5 200.2,102.3 200.9,105.2 189.2,106.6"/><polygon points="171,109.6 183.4,105.9 187,107.4 186.3,111.8 173.2,113.9"/><polygon points="196.5,119.1 211.1,111 219.2,109.6 219.2,129.4 208.9,133.8"/><polygon points="153.5,112.5 160,108.1 163.7,119.1 161.5,123.4 156.4,117.6"/><polygon points="46.1,129.4 68.7,130.8 70.9,134.5 67.2,140.3 55.5,141.1 46.8,134.5"/><polygon points="35.1,142.5 42.4,144 43.9,154.2 41.7,157.8 35.1,157.1"/><polygon points="90.6,150.5 103,138.9 107.4,141.1 110.3,148.4 104.5,156.4 91.3,152"/><polygon points="74.5,159.3 81.1,150.5 89.9,151.3 89.1,154.2 75.3,160.8"/><polygon points="59.2,159.3 64.3,154.9 71.6,162.2 65.8,166.6"/><polygon points="108.8,156.4 120.5,154.9 122,167.3 111.8,166.6"/><polygon points="86.9,168.1 89.1,165.1 103,170.3 102.3,171.7 91.3,171.7"/><polygon points="84.7,179.7 85.5,168.8 91.3,171.7 94.2,180.5"/><polygon points="103.7,171.7 109.6,165.9 123.4,171.7 130,177.6 130,181.2 116.1,187 108.8,182.7"/><polygon points="62.1,179.7 73.1,175.4 81.1,181.2 82.6,184.9 77.4,192.2"/><polygon points="35.1,183.4 45.3,184.1 47.5,187.8 43.9,199.5 35.1,194.3"/><polygon points="43.1,203.8 49,200.2 60.7,200.2 64.3,204.6 57,213.3"/><polygon points="83.3,201.6 95.7,198 100.1,200.2 101.5,206.8 87.7,215.5"/><polygon points="100.1,200.2 108.1,192.2 111.8,195.1 117.6,206.8 113.9,212.6 101.5,206.8"/><polygon points="125,139.6 129.4,133 136.7,135.9 143.2,146.9 135.9,153.5 125,142.5"/><polygon points="136.7,135.9 149.8,128.6 153.5,142.5 148.4,146.9 143.2,146.9"/><polygon points="157.1,142.5 160.8,127.2 167.3,126.5 171,133.8 170.3,139.6 164.4,144.7"/><polygon points="179,128.6 182.7,124.3 187.8,123.5 190,134.5 185.6,138.1"/><polygon points="179.7,152 181.2,144 184.9,141.1 191.4,146.9 189.2,151.3"/><polygon points="191.4,146.9 204.6,137.4 208.2,141.1 208.9,148.4 195.8,155.7"/><polygon points="150.5,151.3 158.6,154.2 154.2,164.4 151.3,163"/><polygon points="163.7,166.6 171.7,154.9 175.4,156.4 181.9,165.9"/><polygon points="149.8,171 156.4,168.8 161.5,169.5 168.1,176.1 166.6,188.5 160,183.4"/><polygon points="132.3,179 139.6,175.4 156.4,192.9 154.9,197.3 146.9,196.5 135.2,190"/><polygon points="125,173.2 131.6,177.6 129.4,181.2 125,183.4"/><polygon points="191.4,175.4 206.8,169.5 219.2,175.4 219.2,185.6 206.8,181.2"/><polygon points="178.3,196.5 184.9,190 201.6,203.8 190.7,214.1 178.3,203.1"/><polygon points="209.7,196.5 219.2,191.4 219.2,212.6"/><polygon points="140.3,214.1 151.3,203.8 153.5,208.2 152,212.6"/></g><g transform="translate(2.2,0)"><polygon points="37.3,46.4 48.2,38.5 52.2,48.7 48.5,54.8 43.9,51.9"/><polygon points="57,61.4 65.8,46.4 72.6,47.8 71.6,59.2 66.5,64.3"/><polygon points="88.4,35.1 111,35.1 114.7,50.4 104.5,57.4 92.8,50.4"/><polygon points="86.2,64.3 92.8,53.4 103.7,57.7 104.7,66.5 101.5,73.8"/><polygon points="40.2,66.5 49.7,57.7 56.3,64.3 54.1,75.3 48.2,79.6 44.6,73.8"/><polygon points="65.8,73.8 68.2,71.6 80.4,76.4 81.8,84.7 73.8,89.1 67.2,82.6"/><polygon points="40.9,90.6 49.7,83.3 53.4,89.1 54.8,95.7"/><polygon points="70.9,95.7 73.8,89.1 82.6,87.7 90.6,91.3 87.7,100.1 81.4,112.9 75.3,105.9"/><polygon points="96.4,90.6 105.2,83.3 111.8,88.4 117.6,95.7 113.9,103 105.9,105.9 101.5,100.1"/><polygon points="108.1,74.5 121.2,69.7 128.1,78.2 126.4,80.4 117.6,84 109.6,81.1"/><polygon points="117.6,95.7 123.4,91.3 122,100.1 119.1,99.3"/><polygon points="35.1,116.1 46.1,117.6 49.7,121.2 44.6,128.7 35.1,127.2"/><polygon points="82.6,123.4 85.5,119.8 103,124.9 102.3,128 91.3,125.8"/><polygon points="104.5,126.4 111.8,121.2 124.9,122.7 130,126.4 126.4,130.9 111.8,133.1 105.2,130.1"/><polygon points="150.5,38 169.5,38.8 171.7,44.6 160.8,53.4 149.8,44.6"/><polygon points="176.8,35.5 199.5,35.5 197.3,42.4 183.4,46.1"/><polygon points="200.2,35.5 206.8,35.5 219.2,51.9 219.2,57.7 204.6,54.1"/><polygon points="125,54.8 129.4,53.4 133.8,51.9 140.3,52.6 142.5,57.7 139.6,65 135.2,61.4 125,61.4"/><polygon points="142.5,61.4 157.8,59.2 154.9,72.3 146.9,66.5"/><polygon points="154.9,72.3 157.8,59.2 160.8,57.7 173.9,72.3 168.8,79.6 153.5,80.4"/><polygon points="176.1,54.8 181.9,49.7 193.6,62.8 178.3,66.5"/><polygon points="187,75.3 192.9,66.2 200.9,75.3 193.6,85.5"/><polygon points="149.1,85.5 153.5,80.4 168.8,79.6 176.8,87.7 175.4,93.5 158.6,94.2"/><polygon points="126.5,103 139.6,87.7 145.4,86.2 143.2,98.6 129.4,113.2"/><polygon points="129.4,113.2 140.3,105.9 144,116.1 130.8,119.1"/><polygon points="203.1,91.3 219.2,86.2 219.2,99.3 206.8,95.7"/><polygon points="187,105.2 191.4,101.5 200.2,102.3 200.9,105.2 189.2,106.6"/><polygon points="171,109.6 183.4,105.9 187,107.4 186.3,111.8 173.2,113.9"/><polygon points="196.5,119.1 211.1,111 219.2,109.6 219.2,129.4 208.9,133.8"/><polygon points="153.5,112.5 160,108.1 163.7,119.1 161.5,123.4 156.4,117.6"/><polygon points="46.1,129.4 68.7,130.8 70.9,134.5 67.2,140.3 55.5,141.1 46.8,134.5"/><polygon points="35.1,142.5 42.4,144 43.9,154.2 41.7,157.8 35.1,157.1"/><polygon points="90.6,150.5 103,138.9 107.4,141.1 110.3,148.4 104.5,156.4 91.3,152"/><polygon points="74.5,159.3 81.1,150.5 89.9,151.3 89.1,154.2 75.3,160.8"/><polygon points="59.2,159.3 64.3,154.9 71.6,162.2 65.8,166.6"/><polygon points="108.8,156.4 120.5,154.9 122,167.3 111.8,166.6"/><polygon points="86.9,168.1 89.1,165.1 103,170.3 102.3,171.7 91.3,171.7"/><polygon points="84.7,179.7 85.5,168.8 91.3,171.7 94.2,180.5"/><polygon points="103.7,171.7 109.6,165.9 123.4,171.7 130,177.6 130,181.2 116.1,187 108.8,182.7"/><polygon points="62.1,179.7 73.1,175.4 81.1,181.2 82.6,184.9 77.4,192.2"/><polygon points="35.1,183.4 45.3,184.1 47.5,187.8 43.9,199.5 35.1,194.3"/><polygon points="43.1,203.8 49,200.2 60.7,200.2 64.3,204.6 57,213.3"/><polygon points="83.3,201.6 95.7,198 100.1,200.2 101.5,206.8 87.7,215.5"/><polygon points="100.1,200.2 108.1,192.2 111.8,195.1 117.6,206.8 113.9,212.6 101.5,206.8"/><polygon points="125,139.6 129.4,133 136.7,135.9 143.2,146.9 135.9,153.5 125,142.5"/><polygon points="136.7,135.9 149.8,128.6 153.5,142.5 148.4,146.9 143.2,146.9"/><polygon points="157.1,142.5 160.8,127.2 167.3,126.5 171,133.8 170.3,139.6 164.4,144.7"/><polygon points="179,128.6 182.7,124.3 187.8,123.5 190,134.5 185.6,138.1"/><polygon points="179.7,152 181.2,144 184.9,141.1 191.4,146.9 189.2,151.3"/><polygon points="191.4,146.9 204.6,137.4 208.2,141.1 208.9,148.4 195.8,155.7"/><polygon points="150.5,151.3 158.6,154.2 154.2,164.4 151.3,163"/><polygon points="163.7,166.6 171.7,154.9 175.4,156.4 181.9,165.9"/><polygon points="149.8,171 156.4,168.8 161.5,169.5 168.1,176.1 166.6,188.5 160,183.4"/><polygon points="132.3,179 139.6,175.4 156.4,192.9 154.9,197.3 146.9,196.5 135.2,190"/><polygon points="125,173.2 131.6,177.6 129.4,181.2 125,183.4"/><polygon points="191.4,175.4 206.8,169.5 219.2,175.4 219.2,185.6 206.8,181.2"/><polygon points="178.3,196.5 184.9,190 201.6,203.8 190.7,214.1 178.3,203.1"/><polygon points="209.7,196.5 219.2,191.4 219.2,212.6"/><polygon points="140.3,214.1 151.3,203.8 153.5,208.2 152,212.6"/></g></g>
<g filter="url(#bl)"><polygon points="78.2,35.1 88.7,35.1 93.1,50.7 81.1,44.6" fill="url(#g3)"/><polygon points="111,35.1 124.2,35.1 117.6,50.7 114.7,50.4" fill="url(#g4)"/><polygon points="72.3,48.2 88.4,42.4 93.1,51.2 86.2,64.3 72.3,60.9" fill="url(#g6)"/><polygon points="76.7,60.7 86.2,64.3 88.4,53.4 93.1,51.2" fill="url(#g7)"/><polygon points="54.1,80.4 66.5,79.6 73.8,89.1 70.9,95.7 54.8,95.7" fill="url(#g12)"/><polygon points="87.7,100.1 90.6,91.3 96.4,90.6 101.5,100.1 105.9,105.9 98.6,107.4 88.4,105.9" fill="url(#g14)"/><polygon points="206.8,35.1 219.2,35.1 219.2,51.9" fill="url(#g23)"/><polygon points="139.6,65 146.9,66.5 154.9,72.3 153.5,80.4 149.1,85.5 144,78.2" fill="url(#g27)"/><polygon points="170.3,78.9 174.6,73.1 187,75.3 181.2,87.7 176.8,87.7" fill="url(#g30)"/><polygon points="145.4,86.2 149.1,98.6 146.9,107.4 143.2,98.6" fill="url(#g34)"/><polygon points="192.2,120.5 196.5,119.1 200.9,130 195.1,130" fill="url(#g41)"/><polygon points="91.3,171.7 102.3,171.7 103.7,171.7 108.8,182.7 105.9,189.2 94.2,180.5" fill="url(#g49)"/><polygon points="111.8,195.1 120.5,206.8 116.1,214.1 113.9,212.6 117.6,206.8" fill="url(#g56)"/><polygon points="152,129.4 160.8,127.2 157.1,142.5 153.5,142.5" fill="url(#g60)"/><polygon points="171,127.9 179,128.6 185.6,138.1 180.5,137.4 171,133.8" fill="url(#g62)"/><polygon points="189.2,125 200.9,125 208.9,133.8 193.6,133.8" fill="url(#g64)"/><polygon points="158.6,154.2 165.9,156.4 162.2,165.1 154.2,164.4" fill="url(#g68)"/><polygon points="201.6,203.8 207.5,197.3 210.4,196.5 218.4,212.6" fill="url(#g75)"/><polygon points="125,182.7 130.8,181.9 132.3,186.3 129.4,189.2 125,189.2" fill="url(#g78)"/><circle cx="36.1" cy="46.4" r="4.3" fill="url(#hy)"/><circle cx="53.4" cy="48.7" r="4.3" fill="url(#hy)"/><circle cx="55.8" cy="61.4" r="4.3" fill="url(#hy)"/><circle cx="73.3" cy="53.5" r="7.7" fill="url(#hy)"/><circle cx="87.2" cy="35.1" r="4.3" fill="url(#hy)"/><circle cx="115.9" cy="50.4" r="4.3" fill="url(#hy)"/><circle cx="85" cy="64.3" r="4.3" fill="url(#hy)"/><circle cx="105.4" cy="62.1" r="6.9" fill="url(#hy)"/><circle cx="39" cy="66.5" r="4.3" fill="url(#hy)"/><circle cx="57.5" cy="64.3" r="4.3" fill="url(#hy)"/><circle cx="64.6" cy="73.8" r="4.3" fill="url(#hy)"/><circle cx="83" cy="84.7" r="4.3" fill="url(#hy)"/><circle cx="39.7" cy="90.6" r="4.3" fill="url(#hy)"/><circle cx="56" cy="95.7" r="4.3" fill="url(#hy)"/><circle cx="69.7" cy="95.7" r="4.3" fill="url(#hy)"/><circle cx="91.8" cy="91.3" r="4.3" fill="url(#hy)"/><circle cx="95.2" cy="90.6" r="4.3" fill="url(#hy)"/><circle cx="118.8" cy="95.7" r="4.3" fill="url(#hy)"/><circle cx="106.9" cy="74.5" r="4.3" fill="url(#hy)"/><circle cx="129.3" cy="78.2" r="4.3" fill="url(#hy)"/><circle cx="116.4" cy="95.7" r="4.3" fill="url(#hy)"/><circle cx="124.6" cy="91.3" r="4.3" fill="url(#hy)"/><circle cx="33.9" cy="121.7" r="7.6" fill="url(#hy)"/><circle cx="50.9" cy="121.2" r="4.3" fill="url(#hy)"/><circle cx="81.4" cy="123.4" r="4.3" fill="url(#hy)"/><circle cx="103.8" cy="126.4" r="5.2" fill="url(#hy)"/><circle cx="103.6" cy="128.2" r="5.4" fill="url(#hy)"/><circle cx="131.2" cy="126.4" r="4.3" fill="url(#hy)"/><circle cx="149" cy="41.3" r="6.3" fill="url(#hy)"/><circle cx="172.9" cy="44.6" r="4.3" fill="url(#hy)"/><circle cx="175.6" cy="35.5" r="4.3" fill="url(#hy)"/><circle cx="200.7" cy="35.5" r="4.3" fill="url(#hy)"/><circle cx="199" cy="35.5" r="4.3" fill="url(#hy)"/><circle cx="220.4" cy="54.8" r="6.1" fill="url(#hy)"/><circle cx="123.8" cy="58.1" r="6.3" fill="url(#hy)"/><circle cx="143.7" cy="57.7" r="4.3" fill="url(#hy)"/><circle cx="141.3" cy="61.4" r="4.3" fill="url(#hy)"/><circle cx="159" cy="59.2" r="4.3" fill="url(#hy)"/><circle cx="152.3" cy="80.4" r="4.3" fill="url(#hy)"/><circle cx="175.1" cy="72.3" r="4.3" fill="url(#hy)"/><circle cx="174.9" cy="54.8" r="4.3" fill="url(#hy)"/><circle cx="194.8" cy="62.8" r="4.3" fill="url(#hy)"/><circle cx="185.8" cy="75.3" r="4.3" fill="url(#hy)"/><circle cx="202.1" cy="75.3" r="4.3" fill="url(#hy)"/><circle cx="147.9" cy="85.5" r="4.3" fill="url(#hy)"/><circle cx="178" cy="87.7" r="4.3" fill="url(#hy)"/><circle cx="125.3" cy="103" r="4.3" fill="url(#hy)"/><circle cx="146.6" cy="86.2" r="4.3" fill="url(#hy)"/><circle cx="128.2" cy="113.2" r="4.3" fill="url(#hy)"/><circle cx="145.2" cy="116.1" r="4.3" fill="url(#hy)"/><circle cx="201.9" cy="91.3" r="4.3" fill="url(#hy)"/><circle cx="220.4" cy="92.8" r="8.2" fill="url(#hy)"/><circle cx="185.8" cy="105.2" r="4.3" fill="url(#hy)"/><circle cx="201.7" cy="103.7" r="5.2" fill="url(#hy)"/><circle cx="169.8" cy="109.6" r="4.3" fill="url(#hy)"/><circle cx="187.9" cy="109.6" r="5.6" fill="url(#hy)"/><circle cx="195.3" cy="119.1" r="4.3" fill="url(#hy)"/><circle cx="220.4" cy="119.5" r="10.3" fill="url(#hy)"/><circle cx="152.3" cy="112.5" r="4.3" fill="url(#hy)"/><circle cx="164.9" cy="119.1" r="4.3" fill="url(#hy)"/><circle cx="45.2" cy="131.9" r="5.8" fill="url(#hy)"/><circle cx="72.1" cy="134.5" r="4.3" fill="url(#hy)"/><circle cx="33.9" cy="149.8" r="8.7" fill="url(#hy)"/><circle cx="45.1" cy="154.2" r="4.3" fill="url(#hy)"/><circle cx="89.7" cy="151.3" r="4.7" fill="url(#hy)"/><circle cx="111.5" cy="148.4" r="4.3" fill="url(#hy)"/><circle cx="73.7" cy="160" r="4.7" fill="url(#hy)"/><circle cx="90.7" cy="152.7" r="5.2" fill="url(#hy)"/><circle cx="58" cy="159.3" r="4.3" fill="url(#hy)"/><circle cx="72.8" cy="162.2" r="4.3" fill="url(#hy)"/><circle cx="107.6" cy="156.4" r="4.3" fill="url(#hy)"/><circle cx="123.2" cy="167.3" r="4.3" fill="url(#hy)"/><circle cx="85.7" cy="168.1" r="4.3" fill="url(#hy)"/><circle cx="103.8" cy="171" r="4.7" fill="url(#hy)"/><circle cx="83.9" cy="174.3" r="7.6" fill="url(#hy)"/><circle cx="95.4" cy="180.5" r="4.3" fill="url(#hy)"/><circle cx="102.5" cy="171.7" r="4.3" fill="url(#hy)"/><circle cx="131.2" cy="179.4" r="5.4" fill="url(#hy)"/><circle cx="60.9" cy="179.7" r="4.3" fill="url(#hy)"/><circle cx="83.8" cy="184.9" r="4.3" fill="url(#hy)"/><circle cx="33.9" cy="188.9" r="7.6" fill="url(#hy)"/><circle cx="48.7" cy="187.8" r="4.3" fill="url(#hy)"/><circle cx="41.9" cy="203.8" r="4.3" fill="url(#hy)"/><circle cx="65.5" cy="204.6" r="4.3" fill="url(#hy)"/><circle cx="82.1" cy="201.6" r="4.3" fill="url(#hy)"/><circle cx="102.7" cy="206.8" r="4.3" fill="url(#hy)"/><circle cx="98.9" cy="200.2" r="4.3" fill="url(#hy)"/><circle cx="118.8" cy="206.8" r="4.3" fill="url(#hy)"/><circle cx="123.8" cy="141.1" r="5.2" fill="url(#hy)"/><circle cx="144.4" cy="146.9" r="4.3" fill="url(#hy)"/><circle cx="135.5" cy="135.9" r="4.3" fill="url(#hy)"/><circle cx="154.7" cy="142.5" r="4.3" fill="url(#hy)"/><circle cx="155.9" cy="142.5" r="4.3" fill="url(#hy)"/><circle cx="171.8" cy="136.7" r="6.1" fill="url(#hy)"/><circle cx="177.8" cy="128.6" r="4.3" fill="url(#hy)"/><circle cx="191.2" cy="134.5" r="4.3" fill="url(#hy)"/><circle cx="178.5" cy="152" r="4.3" fill="url(#hy)"/><circle cx="192.6" cy="146.9" r="4.3" fill="url(#hy)"/><circle cx="190.2" cy="146.9" r="4.3" fill="url(#hy)"/><circle cx="209.8" cy="144.7" r="6.5" fill="url(#hy)"/><circle cx="149.7" cy="157.1" r="7.8" fill="url(#hy)"/><circle cx="159.8" cy="154.2" r="4.3" fill="url(#hy)"/><circle cx="162.5" cy="166.6" r="4.3" fill="url(#hy)"/><circle cx="183.1" cy="165.9" r="4.3" fill="url(#hy)"/><circle cx="148.6" cy="171" r="4.3" fill="url(#hy)"/><circle cx="169.3" cy="176.1" r="4.3" fill="url(#hy)"/><circle cx="131.1" cy="179" r="4.3" fill="url(#hy)"/><circle cx="157.6" cy="192.9" r="4.3" fill="url(#hy)"/><circle cx="123.8" cy="178.3" r="7.4" fill="url(#hy)"/><circle cx="132.8" cy="177.6" r="4.3" fill="url(#hy)"/><circle cx="190.2" cy="175.4" r="4.3" fill="url(#hy)"/><circle cx="220.4" cy="180.5" r="7.4" fill="url(#hy)"/><circle cx="177.1" cy="199.8" r="6.3" fill="url(#hy)"/><circle cx="202.8" cy="203.8" r="4.3" fill="url(#hy)"/><circle cx="208.5" cy="196.5" r="4.3" fill="url(#hy)"/><circle cx="220.4" cy="202" r="10.7" fill="url(#hy)"/><circle cx="139.1" cy="214.1" r="4.3" fill="url(#hy)"/><circle cx="154.7" cy="208.2" r="4.3" fill="url(#hy)"/></g>
<use href="#vor" x="35.1" y="35.1"/>
<g filter="url(#bl2)" stroke="#40100c" stroke-width="0.4" stroke-linejoin="round"><polygon points="37.3,46.4 48.2,38.5 52.2,48.7 48.5,54.8 43.9,51.9" fill="url(#g1)"/><polygon points="57,61.4 65.8,46.4 72.6,47.8 71.6,59.2 66.5,64.3" fill="url(#g2)"/><polygon points="88.4,35.1 111,35.1 114.7,50.4 104.5,57.4 92.8,50.4" fill="url(#g5)"/><polygon points="86.2,64.3 92.8,53.4 103.7,57.7 104.7,66.5 101.5,73.8" fill="url(#g8)"/><polygon points="40.2,66.5 49.7,57.7 56.3,64.3 54.1,75.3 48.2,79.6 44.6,73.8" fill="url(#g9)"/><polygon points="65.8,73.8 68.2,71.6 80.4,76.4 81.8,84.7 73.8,89.1 67.2,82.6" fill="url(#g10)"/><polygon points="40.9,90.6 49.7,83.3 53.4,89.1 54.8,95.7" fill="url(#g11)"/><polygon points="70.9,95.7 73.8,89.1 82.6,87.7 90.6,91.3 87.7,100.1 81.4,112.9 75.3,105.9" fill="url(#g13)"/><polygon points="96.4,90.6 105.2,83.3 111.8,88.4 117.6,95.7 113.9,103 105.9,105.9 101.5,100.1" fill="url(#g15)"/><polygon points="108.1,74.5 121.2,69.7 128.1,78.2 126.4,80.4 117.6,84 109.6,81.1" fill="url(#g16)"/><polygon points="117.6,95.7 123.4,91.3 122,100.1 119.1,99.3" fill="url(#g17)"/><polygon points="35.1,116.1 46.1,117.6 49.7,121.2 44.6,128.7 35.1,127.2" fill="url(#g18)"/><polygon points="82.6,123.4 85.5,119.8 103,124.9 102.3,128 91.3,125.8" fill="url(#g19)"/><polygon points="104.5,126.4 111.8,121.2 124.9,122.7 130,126.4 126.4,130.9 111.8,133.1 105.2,130.1" fill="url(#g20)"/><polygon points="150.5,38 169.5,38.8 171.7,44.6 160.8,53.4 149.8,44.6" fill="url(#g21)"/><polygon points="176.8,35.5 199.5,35.5 197.3,42.4 183.4,46.1" fill="url(#g22)"/><polygon points="200.2,35.5 206.8,35.5 219.2,51.9 219.2,57.7 204.6,54.1" fill="url(#g24)"/><polygon points="125,54.8 129.4,53.4 133.8,51.9 140.3,52.6 142.5,57.7 139.6,65 135.2,61.4 125,61.4" fill="url(#g25)"/><polygon points="142.5,61.4 157.8,59.2 154.9,72.3 146.9,66.5" fill="url(#g26)"/><polygon points="154.9,72.3 157.8,59.2 160.8,57.7 173.9,72.3 168.8,79.6 153.5,80.4" fill="url(#g28)"/><polygon points="176.1,54.8 181.9,49.7 193.6,62.8 178.3,66.5" fill="url(#g29)"/><polygon points="187,75.3 192.9,66.2 200.9,75.3 193.6,85.5" fill="url(#g31)"/><polygon points="149.1,85.5 153.5,80.4 168.8,79.6 176.8,87.7 175.4,93.5 158.6,94.2" fill="url(#g32)"/><polygon points="126.5,103 139.6,87.7 145.4,86.2 143.2,98.6 129.4,113.2" fill="url(#g33)"/><polygon points="129.4,113.2 140.3,105.9 144,116.1 130.8,119.1" fill="url(#g35)"/><polygon points="203.1,91.3 219.2,86.2 219.2,99.3 206.8,95.7" fill="url(#g36)"/><polygon points="187,105.2 191.4,101.5 200.2,102.3 200.9,105.2 189.2,106.6" fill="url(#g37)"/><polygon points="171,109.6 183.4,105.9 187,107.4 186.3,111.8 173.2,113.9" fill="url(#g38)"/><polygon points="196.5,119.1 211.1,111 219.2,109.6 219.2,129.4 208.9,133.8" fill="url(#g39)"/><polygon points="153.5,112.5 160,108.1 163.7,119.1 161.5,123.4 156.4,117.6" fill="url(#g40)"/><polygon points="46.1,129.4 68.7,130.8 70.9,134.5 67.2,140.3 55.5,141.1 46.8,134.5" fill="url(#g42)"/><polygon points="35.1,142.5 42.4,144 43.9,154.2 41.7,157.8 35.1,157.1" fill="url(#g43)"/><polygon points="90.6,150.5 103,138.9 107.4,141.1 110.3,148.4 104.5,156.4 91.3,152" fill="url(#g44)"/><polygon points="74.5,159.3 81.1,150.5 89.9,151.3 89.1,154.2 75.3,160.8" fill="url(#g45)"/><polygon points="59.2,159.3 64.3,154.9 71.6,162.2 65.8,166.6" fill="url(#g46)"/><polygon points="108.8,156.4 120.5,154.9 122,167.3 111.8,166.6" fill="url(#g47)"/><polygon points="86.9,168.1 89.1,165.1 103,170.3 102.3,171.7 91.3,171.7" fill="url(#g48)"/><polygon points="84.7,179.7 85.5,168.8 91.3,171.7 94.2,180.5" fill="url(#g50)"/><polygon points="103.7,171.7 109.6,165.9 123.4,171.7 130,177.6 130,181.2 116.1,187 108.8,182.7" fill="url(#g51)"/><polygon points="62.1,179.7 73.1,175.4 81.1,181.2 82.6,184.9 77.4,192.2" fill="url(#g52)"/><polygon points="35.1,183.4 45.3,184.1 47.5,187.8 43.9,199.5 35.1,194.3" fill="url(#g53)"/><polygon points="43.1,203.8 49,200.2 60.7,200.2 64.3,204.6 57,213.3" fill="url(#g54)"/><polygon points="83.3,201.6 95.7,198 100.1,200.2 101.5,206.8 87.7,215.5" fill="url(#g55)"/><polygon points="100.1,200.2 108.1,192.2 111.8,195.1 117.6,206.8 113.9,212.6 101.5,206.8" fill="url(#g57)"/><polygon points="125,139.6 129.4,133 136.7,135.9 143.2,146.9 135.9,153.5 125,142.5" fill="url(#g58)"/><polygon points="136.7,135.9 149.8,128.6 153.5,142.5 148.4,146.9 143.2,146.9" fill="url(#g59)"/><polygon points="157.1,142.5 160.8,127.2 167.3,126.5 171,133.8 170.3,139.6 164.4,144.7" fill="url(#g61)"/><polygon points="179,128.6 182.7,124.3 187.8,123.5 190,134.5 185.6,138.1" fill="url(#g63)"/><polygon points="179.7,152 181.2,144 184.9,141.1 191.4,146.9 189.2,151.3" fill="url(#g65)"/><polygon points="191.4,146.9 204.6,137.4 208.2,141.1 208.9,148.4 195.8,155.7" fill="url(#g66)"/><polygon points="150.5,151.3 158.6,154.2 154.2,164.4 151.3,163" fill="url(#g67)"/><polygon points="163.7,166.6 171.7,154.9 175.4,156.4 181.9,165.9" fill="url(#g69)"/><polygon points="149.8,171 156.4,168.8 161.5,169.5 168.1,176.1 166.6,188.5 160,183.4" fill="url(#g70)"/><polygon points="132.3,179 139.6,175.4 156.4,192.9 154.9,197.3 146.9,196.5 135.2,190" fill="url(#g71)"/><polygon points="125,173.2 131.6,177.6 129.4,181.2 125,183.4" fill="url(#g72)"/><polygon points="191.4,175.4 206.8,169.5 219.2,175.4 219.2,185.6 206.8,181.2" fill="url(#g73)"/><polygon points="178.3,196.5 184.9,190 201.6,203.8 190.7,214.1 178.3,203.1" fill="url(#g74)"/><polygon points="209.7,196.5 219.2,191.4 219.2,212.6" fill="url(#g76)"/><polygon points="140.3,214.1 151.3,203.8 153.5,208.2 152,212.6" fill="url(#g77)"/></g>
</g>
<defs><clipPath id="cpb"><rect x="242.7" y="34.4" width="184.8" height="184"/></clipPath><linearGradient id="g79" gradientUnits="userSpaceOnUse" x1="246" y1="46.8" x2="259.9" y2="43.9"><stop offset="0%" stop-color="#0090ff"/><stop offset="20%" stop-color="#00b9ff"/><stop offset="40%" stop-color="#01d9f8"/><stop offset="60%" stop-color="#0ee9f2"/><stop offset="80%" stop-color="#32f5d9"/><stop offset="100%" stop-color="#72fd9c"/></linearGradient><linearGradient id="g80" gradientUnits="userSpaceOnUse" x1="267.2" y1="62.1" x2="276.7" y2="46.8"><stop offset="0%" stop-color="#0060ff"/><stop offset="20%" stop-color="#0090ff"/><stop offset="40%" stop-color="#00b8ff"/><stop offset="60%" stop-color="#00d8f8"/><stop offset="80%" stop-color="#0ae8f4"/><stop offset="100%" stop-color="#28f4e2"/></linearGradient><linearGradient id="g81" gradientUnits="userSpaceOnUse" x1="281.1" y1="54.1" x2="295.7" y2="59.2"><stop offset="0%" stop-color="#f9f306"/><stop offset="20%" stop-color="#ffd200"/><stop offset="40%" stop-color="#ffad00"/><stop offset="60%" stop-color="#ff8200"/><stop offset="80%" stop-color="#ff5500"/><stop offset="100%" stop-color="#ff3000"/></linearGradient><linearGradient id="g82" gradientUnits="userSpaceOnUse" x1="295.7" y1="66.2" x2="311.7" y2="58.5"><stop offset="0%" stop-color="#0060ff"/><stop offset="20%" stop-color="#0092ff"/><stop offset="40%" stop-color="#00bbfe"/><stop offset="60%" stop-color="#01daf8"/><stop offset="80%" stop-color="#0feaf1"/><stop offset="100%" stop-color="#34f6d7"/></linearGradient><linearGradient id="g83" gradientUnits="userSpaceOnUse" x1="313.6" y1="66.5" x2="322.7" y2="67.2"><stop offset="0%" stop-color="#f9f306"/><stop offset="16.7%" stop-color="#ffd200"/><stop offset="33.3%" stop-color="#ffac00"/><stop offset="50%" stop-color="#ff8100"/><stop offset="66.7%" stop-color="#ff5300"/><stop offset="83.3%" stop-color="#ff2e00"/><stop offset="100%" stop-color="#fc1300"/></linearGradient><linearGradient id="g84" gradientUnits="userSpaceOnUse" x1="248.9" y1="65.8" x2="259.9" y2="78.2"><stop offset="0%" stop-color="#00a4ff"/><stop offset="20%" stop-color="#00c8fc"/><stop offset="40%" stop-color="#05e0f6"/><stop offset="60%" stop-color="#19eeeb"/><stop offset="80%" stop-color="#46f8c6"/><stop offset="100%" stop-color="#87fe87"/></linearGradient><linearGradient id="g85" gradientUnits="userSpaceOnUse" x1="286.9" y1="76.4" x2="276.2" y2="86.2"><stop offset="0%" stop-color="#0078ff"/><stop offset="20%" stop-color="#00a4ff"/><stop offset="40%" stop-color="#00c8fc"/><stop offset="60%" stop-color="#05e0f6"/><stop offset="80%" stop-color="#19eeeb"/><stop offset="100%" stop-color="#46f8c6"/></linearGradient><linearGradient id="g86" gradientUnits="userSpaceOnUse" x1="290.6" y1="80.4" x2="301.5" y2="84.7"><stop offset="0%" stop-color="#f9f306"/><stop offset="20%" stop-color="#ffce00"/><stop offset="40%" stop-color="#ffa500"/><stop offset="60%" stop-color="#ff7400"/><stop offset="80%" stop-color="#ff4200"/><stop offset="100%" stop-color="#ff2000"/></linearGradient><linearGradient id="g87" gradientUnits="userSpaceOnUse" x1="250.4" y1="92" x2="259.9" y2="86.2"><stop offset="0%" stop-color="#0060ff"/><stop offset="20%" stop-color="#0090ff"/><stop offset="40%" stop-color="#00b8ff"/><stop offset="60%" stop-color="#00d8f8"/><stop offset="80%" stop-color="#0ae8f4"/><stop offset="100%" stop-color="#28f4e2"/></linearGradient><linearGradient id="g88" gradientUnits="userSpaceOnUse" x1="303.7" y1="94.2" x2="300" y2="100.1"><stop offset="0%" stop-color="#fff000"/><stop offset="20%" stop-color="#ffc800"/><stop offset="40%" stop-color="#ffa000"/><stop offset="60%" stop-color="#ff7000"/><stop offset="80%" stop-color="#ff4000"/><stop offset="100%" stop-color="#ff2000"/></linearGradient><linearGradient id="g89" gradientUnits="userSpaceOnUse" x1="306.6" y1="89.1" x2="325" y2="97.4"><stop offset="0%" stop-color="#22f2e6"/><stop offset="20%" stop-color="#09e6f4"/><stop offset="40%" stop-color="#00d7f8"/><stop offset="60%" stop-color="#00b9ff"/><stop offset="80%" stop-color="#0095ff"/><stop offset="100%" stop-color="#006aff"/></linearGradient><linearGradient id="g90" gradientUnits="userSpaceOnUse" x1="326.3" y1="95.7" x2="330.7" y2="95.7"><stop offset="0%" stop-color="#87fe87"/><stop offset="100%" stop-color="#28f4e2"/></linearGradient><linearGradient id="g91" gradientUnits="userSpaceOnUse" x1="273.8" y1="100.1" x2="278.9" y2="101.5"><stop offset="0%" stop-color="#f0f710"/><stop offset="50%" stop-color="#c5ff42"/><stop offset="100%" stop-color="#87fe87"/></linearGradient><linearGradient id="g92" gradientUnits="userSpaceOnUse" x1="267.2" y1="109.1" x2="268.7" y2="118.8"><stop offset="0%" stop-color="#006aff"/><stop offset="20%" stop-color="#0095ff"/><stop offset="40%" stop-color="#00b9ff"/><stop offset="60%" stop-color="#00d7f8"/><stop offset="80%" stop-color="#09e6f4"/><stop offset="100%" stop-color="#22f2e6"/></linearGradient><linearGradient id="g93" gradientUnits="userSpaceOnUse" x1="273" y1="124.9" x2="289.4" y2="117.9"><stop offset="0%" stop-color="#72fd9c"/><stop offset="20%" stop-color="#2ff5db"/><stop offset="40%" stop-color="#0be8f3"/><stop offset="60%" stop-color="#00d7f8"/><stop offset="80%" stop-color="#00b3ff"/><stop offset="100%" stop-color="#0086ff"/></linearGradient><linearGradient id="g94" gradientUnits="userSpaceOnUse" x1="292.7" y1="120.8" x2="310.3" y2="128.1"><stop offset="0%" stop-color="#002df3"/><stop offset="16.7%" stop-color="#006aff"/><stop offset="33.3%" stop-color="#0098ff"/><stop offset="50%" stop-color="#00befe"/><stop offset="66.7%" stop-color="#02dbf7"/><stop offset="83.3%" stop-color="#10eaf0"/><stop offset="100%" stop-color="#34f6d7"/></linearGradient><linearGradient id="g95" gradientUnits="userSpaceOnUse" x1="309.2" y1="119.3" x2="318.6" y2="117.6"><stop offset="0%" stop-color="#aaff64"/><stop offset="50%" stop-color="#64fcaa"/><stop offset="100%" stop-color="#28f4e2"/></linearGradient><linearGradient id="g96" gradientUnits="userSpaceOnUse" x1="320.5" y1="38.8" x2="328.5" y2="41.7"><stop offset="0%" stop-color="#fc1300"/><stop offset="20%" stop-color="#ff3000"/><stop offset="40%" stop-color="#ff5800"/><stop offset="60%" stop-color="#ff8800"/><stop offset="80%" stop-color="#ffb400"/><stop offset="100%" stop-color="#ffdc00"/></linearGradient><linearGradient id="g97" gradientUnits="userSpaceOnUse" x1="327.1" y1="48.2" x2="337.3" y2="38"><stop offset="0%" stop-color="#f9f306"/><stop offset="33.3%" stop-color="#dcff25"/><stop offset="66.7%" stop-color="#aeff5f"/><stop offset="100%" stop-color="#72fd9c"/></linearGradient><linearGradient id="g98" gradientUnits="userSpaceOnUse" x1="337.3" y1="41.7" x2="354.1" y2="43.1"><stop offset="0%" stop-color="#fff000"/><stop offset="16.7%" stop-color="#ffcb00"/><stop offset="33.3%" stop-color="#ffa700"/><stop offset="50%" stop-color="#ff7c00"/><stop offset="66.7%" stop-color="#ff5000"/><stop offset="83.3%" stop-color="#ff2d00"/><stop offset="100%" stop-color="#fc1300"/></linearGradient><linearGradient id="g99" gradientUnits="userSpaceOnUse" x1="360.9" y1="43.9" x2="377.9" y2="40.2"><stop offset="0%" stop-color="#22f2e6"/><stop offset="25%" stop-color="#07e4f5"/><stop offset="50%" stop-color="#00cdfa"/><stop offset="75%" stop-color="#00a7ff"/><stop offset="100%" stop-color="#0078ff"/></linearGradient><linearGradient id="g100" gradientUnits="userSpaceOnUse" x1="386.2" y1="51.6" x2="396" y2="65.3"><stop offset="0%" stop-color="#34f6d7"/><stop offset="20%" stop-color="#10eaf0"/><stop offset="40%" stop-color="#02dbf7"/><stop offset="60%" stop-color="#00befe"/><stop offset="80%" stop-color="#0098ff"/><stop offset="100%" stop-color="#006aff"/></linearGradient><linearGradient id="g101" gradientUnits="userSpaceOnUse" x1="420.5" y1="35.5" x2="427.1" y2="41.7"><stop offset="0%" stop-color="#ff4000"/><stop offset="25%" stop-color="#ff7000"/><stop offset="50%" stop-color="#ffa000"/><stop offset="75%" stop-color="#ffc800"/><stop offset="100%" stop-color="#fff000"/></linearGradient><linearGradient id="g102" gradientUnits="userSpaceOnUse" x1="408.5" y1="38.5" x2="426.4" y2="56.6"><stop offset="0%" stop-color="#46f8c6"/><stop offset="20%" stop-color="#19eeeb"/><stop offset="40%" stop-color="#05e0f6"/><stop offset="60%" stop-color="#00c8fc"/><stop offset="80%" stop-color="#00a4ff"/><stop offset="100%" stop-color="#0078ff"/></linearGradient><linearGradient id="g103" gradientUnits="userSpaceOnUse" x1="332.6" y1="57.7" x2="340.9" y2="62.1"><stop offset="0%" stop-color="#c5ff42"/><stop offset="33.3%" stop-color="#7bfd93"/><stop offset="66.7%" stop-color="#32f5d9"/><stop offset="100%" stop-color="#0ae8f4"/></linearGradient><linearGradient id="g104" gradientUnits="userSpaceOnUse" x1="345.8" y1="73.8" x2="364.7" y2="62.1"><stop offset="0%" stop-color="#72fd9c"/><stop offset="50%" stop-color="#2ef5dc"/><stop offset="100%" stop-color="#0ae8f4"/></linearGradient><linearGradient id="g105" gradientUnits="userSpaceOnUse" x1="364.3" y1="70.1" x2="374.5" y2="72.3"><stop offset="0%" stop-color="#f9f306"/><stop offset="20%" stop-color="#ffcd00"/><stop offset="40%" stop-color="#ffa200"/><stop offset="60%" stop-color="#ff6e00"/><stop offset="80%" stop-color="#ff3c00"/><stop offset="100%" stop-color="#fe1b00"/></linearGradient><linearGradient id="g106" gradientUnits="userSpaceOnUse" x1="390.1" y1="84.7" x2="399.3" y2="85.8"><stop offset="0%" stop-color="#28f4e2"/><stop offset="33.3%" stop-color="#09e7f4"/><stop offset="66.7%" stop-color="#00d4f9"/><stop offset="100%" stop-color="#00b0ff"/></linearGradient><linearGradient id="g107" gradientUnits="userSpaceOnUse" x1="373.8" y1="93.9" x2="373.8" y2="103.3"><stop offset="0%" stop-color="#006aff"/><stop offset="20%" stop-color="#0096ff"/><stop offset="40%" stop-color="#00bcfe"/><stop offset="60%" stop-color="#01d9f8"/><stop offset="80%" stop-color="#0be8f3"/><stop offset="100%" stop-color="#28f4e2"/></linearGradient><linearGradient id="g108" gradientUnits="userSpaceOnUse" x1="344.3" y1="87.2" x2="331.2" y2="98.6"><stop offset="0%" stop-color="#e6fc1a"/><stop offset="25%" stop-color="#b5ff56"/><stop offset="50%" stop-color="#72fd9c"/><stop offset="75%" stop-color="#34f6d7"/><stop offset="100%" stop-color="#10eaf0"/></linearGradient><linearGradient id="g109" gradientUnits="userSpaceOnUse" x1="411" y1="92" x2="423.4" y2="93.1"><stop offset="0%" stop-color="#10eaf0"/><stop offset="25%" stop-color="#02dbf7"/><stop offset="50%" stop-color="#00befe"/><stop offset="75%" stop-color="#0098ff"/><stop offset="100%" stop-color="#006aff"/></linearGradient><linearGradient id="g110" gradientUnits="userSpaceOnUse" x1="395" y1="104.5" x2="408.1" y2="103.7"><stop offset="0%" stop-color="#00a4ff"/><stop offset="33.3%" stop-color="#007dff"/><stop offset="66.7%" stop-color="#004dfa"/><stop offset="100%" stop-color="#001ce7"/></linearGradient><linearGradient id="g111" gradientUnits="userSpaceOnUse" x1="379.3" y1="110.3" x2="393.9" y2="109.1"><stop offset="0%" stop-color="#0020f0"/><stop offset="25%" stop-color="#0062ff"/><stop offset="50%" stop-color="#0094ff"/><stop offset="75%" stop-color="#00bdfe"/><stop offset="100%" stop-color="#02dbf7"/></linearGradient><linearGradient id="g112" gradientUnits="userSpaceOnUse" x1="338" y1="117.9" x2="350.7" y2="109.6"><stop offset="0%" stop-color="#0053fc"/><stop offset="20%" stop-color="#008aff"/><stop offset="40%" stop-color="#00b6ff"/><stop offset="60%" stop-color="#00d9f8"/><stop offset="80%" stop-color="#0ee9f2"/><stop offset="100%" stop-color="#34f6d7"/></linearGradient><linearGradient id="g113" gradientUnits="userSpaceOnUse" x1="362.1" y1="113.2" x2="370.9" y2="119.1"><stop offset="0%" stop-color="#c5ff42"/><stop offset="50%" stop-color="#75fd99"/><stop offset="100%" stop-color="#28f4e2"/></linearGradient><linearGradient id="g114" gradientUnits="userSpaceOnUse" x1="405.6" y1="117.6" x2="427.5" y2="127.8"><stop offset="0%" stop-color="#0053fc"/><stop offset="25%" stop-color="#0089ff"/><stop offset="50%" stop-color="#00b4ff"/><stop offset="75%" stop-color="#00d6f8"/><stop offset="100%" stop-color="#0ae8f4"/></linearGradient><linearGradient id="g115" gradientUnits="userSpaceOnUse" x1="404.5" y1="123.4" x2="399.3" y2="124.9"><stop offset="0%" stop-color="#fff000"/><stop offset="20%" stop-color="#ffcc00"/><stop offset="40%" stop-color="#ffa800"/><stop offset="60%" stop-color="#ff7e00"/><stop offset="80%" stop-color="#ff5300"/><stop offset="100%" stop-color="#ff3000"/></linearGradient><linearGradient id="g116" gradientUnits="userSpaceOnUse" x1="334.4" y1="116.1" x2="330" y2="116.1"><stop offset="0%" stop-color="#fff000"/><stop offset="25%" stop-color="#ffc800"/><stop offset="50%" stop-color="#ffa000"/><stop offset="75%" stop-color="#ff7000"/><stop offset="100%" stop-color="#ff4000"/></linearGradient><linearGradient id="g117" gradientUnits="userSpaceOnUse" x1="265.7" y1="129.1" x2="265.7" y2="140.8"><stop offset="0%" stop-color="#0053fc"/><stop offset="20%" stop-color="#008aff"/><stop offset="40%" stop-color="#00b6ff"/><stop offset="60%" stop-color="#00d9f8"/><stop offset="80%" stop-color="#0ee9f2"/><stop offset="100%" stop-color="#34f6d7"/></linearGradient><linearGradient id="g118" gradientUnits="userSpaceOnUse" x1="243.1" y1="143.2" x2="251.4" y2="154.2"><stop offset="0%" stop-color="#00c8fc"/><stop offset="50%" stop-color="#06e2f5"/><stop offset="100%" stop-color="#22f2e6"/></linearGradient><linearGradient id="g119" gradientUnits="userSpaceOnUse" x1="299.3" y1="150.5" x2="318" y2="146.9"><stop offset="0%" stop-color="#00b8ff"/><stop offset="25%" stop-color="#01daf8"/><stop offset="50%" stop-color="#11ebf0"/><stop offset="75%" stop-color="#3ef7cd"/><stop offset="100%" stop-color="#87fe87"/></linearGradient><linearGradient id="g120" gradientUnits="userSpaceOnUse" x1="319" y1="146.2" x2="331.4" y2="150.5"><stop offset="0%" stop-color="#f9f306"/><stop offset="25%" stop-color="#ffce00"/><stop offset="50%" stop-color="#ffa400"/><stop offset="75%" stop-color="#ff7200"/><stop offset="100%" stop-color="#ff4000"/></linearGradient><linearGradient id="g121" gradientUnits="userSpaceOnUse" x1="267.9" y1="158.9" x2="278.6" y2="161.5"><stop offset="0%" stop-color="#46f8c6"/><stop offset="100%" stop-color="#10eaf0"/></linearGradient><linearGradient id="g122" gradientUnits="userSpaceOnUse" x1="271.3" y1="178.7" x2="289.1" y2="187.5"><stop offset="0%" stop-color="#0060ff"/><stop offset="16.7%" stop-color="#008eff"/><stop offset="33.3%" stop-color="#00b5ff"/><stop offset="50%" stop-color="#00d5f9"/><stop offset="66.7%" stop-color="#09e6f5"/><stop offset="83.3%" stop-color="#23f2e5"/><stop offset="100%" stop-color="#58fab5"/></linearGradient><linearGradient id="g123" gradientUnits="userSpaceOnUse" x1="290.8" y1="183.4" x2="303" y2="181.2"><stop offset="0%" stop-color="#f9f306"/><stop offset="25%" stop-color="#ffd300"/><stop offset="50%" stop-color="#ffae00"/><stop offset="75%" stop-color="#ff8400"/><stop offset="100%" stop-color="#ff5800"/></linearGradient><linearGradient id="g124" gradientUnits="userSpaceOnUse" x1="303" y1="180.5" x2="317.1" y2="186.3"><stop offset="0%" stop-color="#05e0f6"/><stop offset="25%" stop-color="#19eeeb"/><stop offset="50%" stop-color="#46f8c6"/><stop offset="75%" stop-color="#87fe87"/><stop offset="100%" stop-color="#c5ff42"/></linearGradient><linearGradient id="g125" gradientUnits="userSpaceOnUse" x1="315.1" y1="181.2" x2="331.4" y2="182.7"><stop offset="0%" stop-color="#f9f306"/><stop offset="16.7%" stop-color="#ffd200"/><stop offset="33.3%" stop-color="#ffac00"/><stop offset="50%" stop-color="#ff8100"/><stop offset="66.7%" stop-color="#ff5300"/><stop offset="83.3%" stop-color="#ff2e00"/><stop offset="100%" stop-color="#fc1300"/></linearGradient><linearGradient id="g126" gradientUnits="userSpaceOnUse" x1="243.1" y1="183.7" x2="252.9" y2="197.7"><stop offset="0%" stop-color="#0078ff"/><stop offset="16.7%" stop-color="#00a6ff"/><stop offset="33.3%" stop-color="#00cbfb"/><stop offset="50%" stop-color="#06e2f5"/><stop offset="66.7%" stop-color="#1ff0e7"/><stop offset="83.3%" stop-color="#55fab8"/><stop offset="100%" stop-color="#9cfe72"/></linearGradient><linearGradient id="g127" gradientUnits="userSpaceOnUse" x1="259.9" y1="199.2" x2="265.7" y2="212.3"><stop offset="0%" stop-color="#0040f8"/><stop offset="16.7%" stop-color="#0076ff"/><stop offset="33.3%" stop-color="#00a0ff"/><stop offset="50%" stop-color="#00c3fd"/><stop offset="66.7%" stop-color="#03ddf7"/><stop offset="83.3%" stop-color="#12ebf0"/><stop offset="100%" stop-color="#34f6d7"/></linearGradient><linearGradient id="g128" gradientUnits="userSpaceOnUse" x1="303.7" y1="197.7" x2="294.2" y2="212.6"><stop offset="0%" stop-color="#02dbf7"/><stop offset="20%" stop-color="#10eaf0"/><stop offset="40%" stop-color="#34f6d7"/><stop offset="60%" stop-color="#72fd9c"/><stop offset="80%" stop-color="#b5ff56"/><stop offset="100%" stop-color="#e6fc1a"/></linearGradient><linearGradient id="g129" gradientUnits="userSpaceOnUse" x1="331.5" y1="148.4" x2="335.8" y2="160"><stop offset="0%" stop-color="#fff000"/><stop offset="20%" stop-color="#ffc800"/><stop offset="40%" stop-color="#ffa000"/><stop offset="60%" stop-color="#ff7000"/><stop offset="80%" stop-color="#ff4000"/><stop offset="100%" stop-color="#ff2000"/></linearGradient><linearGradient id="g130" gradientUnits="userSpaceOnUse" x1="331.2" y1="144" x2="343.9" y2="154.9"><stop offset="0%" stop-color="#d5ff2e"/><stop offset="25%" stop-color="#a3ff6b"/><stop offset="50%" stop-color="#64fcaa"/><stop offset="75%" stop-color="#2ef5dc"/><stop offset="100%" stop-color="#10eaf0"/></linearGradient><linearGradient id="g131" gradientUnits="userSpaceOnUse" x1="363.6" y1="127.2" x2="363.6" y2="142.2"><stop offset="0%" stop-color="#28f4e2"/><stop offset="33.3%" stop-color="#69fca5"/><stop offset="66.7%" stop-color="#b1ff5b"/><stop offset="100%" stop-color="#e6fc1a"/></linearGradient><linearGradient id="g132" gradientUnits="userSpaceOnUse" x1="386.9" y1="128.6" x2="397.9" y2="133.8"><stop offset="0%" stop-color="#46f8c6"/><stop offset="50%" stop-color="#19eeeb"/><stop offset="100%" stop-color="#05e0f6"/></linearGradient><linearGradient id="g133" gradientUnits="userSpaceOnUse" x1="388.1" y1="145.4" x2="398.9" y2="148.1"><stop offset="0%" stop-color="#72fd9c"/><stop offset="33.3%" stop-color="#34f6d7"/><stop offset="66.7%" stop-color="#10eaf0"/><stop offset="100%" stop-color="#02dbf7"/></linearGradient><linearGradient id="g134" gradientUnits="userSpaceOnUse" x1="358.2" y1="154.2" x2="364.7" y2="155.9"><stop offset="0%" stop-color="#e6fc1a"/><stop offset="33.3%" stop-color="#baff50"/><stop offset="66.7%" stop-color="#80fd8e"/><stop offset="100%" stop-color="#46f8c6"/></linearGradient><linearGradient id="g135" gradientUnits="userSpaceOnUse" x1="365.8" y1="159.3" x2="373.1" y2="161.5"><stop offset="0%" stop-color="#f9f306"/><stop offset="20%" stop-color="#ffce00"/><stop offset="40%" stop-color="#ffa500"/><stop offset="60%" stop-color="#ff7400"/><stop offset="80%" stop-color="#ff4200"/><stop offset="100%" stop-color="#ff2000"/></linearGradient><linearGradient id="g136" gradientUnits="userSpaceOnUse" x1="379.6" y1="154.6" x2="379.6" y2="167"><stop offset="0%" stop-color="#34f6d7"/><stop offset="25%" stop-color="#0de9f2"/><stop offset="50%" stop-color="#00d8f8"/><stop offset="75%" stop-color="#00b4ff"/><stop offset="100%" stop-color="#0086ff"/></linearGradient><linearGradient id="g137" gradientUnits="userSpaceOnUse" x1="359.2" y1="170" x2="375" y2="184.1"><stop offset="0%" stop-color="#19eeeb"/><stop offset="25%" stop-color="#41f7ca"/><stop offset="50%" stop-color="#7cfd92"/><stop offset="75%" stop-color="#b9ff51"/><stop offset="100%" stop-color="#e6fc1a"/></linearGradient><linearGradient id="g138" gradientUnits="userSpaceOnUse" x1="339.9" y1="182.7" x2="330.7" y2="182.7"><stop offset="0%" stop-color="#f9f306"/><stop offset="20%" stop-color="#ffce00"/><stop offset="40%" stop-color="#ffa500"/><stop offset="60%" stop-color="#ff7400"/><stop offset="80%" stop-color="#ff4200"/><stop offset="100%" stop-color="#ff2000"/></linearGradient><linearGradient id="g139" gradientUnits="userSpaceOnUse" x1="341.4" y1="178.7" x2="362.4" y2="195.4"><stop offset="0%" stop-color="#00d2f9"/><stop offset="50%" stop-color="#08e5f5"/><stop offset="100%" stop-color="#22f2e6"/></linearGradient><linearGradient id="g140" gradientUnits="userSpaceOnUse" x1="400.1" y1="174.9" x2="423.4" y2="176.4"><stop offset="0%" stop-color="#19eeeb"/><stop offset="20%" stop-color="#06e1f6"/><stop offset="40%" stop-color="#00ccfb"/><stop offset="60%" stop-color="#00abff"/><stop offset="80%" stop-color="#0084ff"/><stop offset="100%" stop-color="#0053fc"/></linearGradient><linearGradient id="g141" gradientUnits="userSpaceOnUse" x1="388.4" y1="192.4" x2="407.7" y2="203.8"><stop offset="0%" stop-color="#10eaf0"/><stop offset="25%" stop-color="#03dcf7"/><stop offset="50%" stop-color="#00c3fd"/><stop offset="75%" stop-color="#00a1ff"/><stop offset="100%" stop-color="#0078ff"/></linearGradient><linearGradient id="g142" gradientUnits="userSpaceOnUse" x1="406.6" y1="201.6" x2="396" y2="212.6"><stop offset="0%" stop-color="#0086ff"/><stop offset="14.3%" stop-color="#00b2ff"/><stop offset="28.6%" stop-color="#00d5f9"/><stop offset="42.9%" stop-color="#0ae8f4"/><stop offset="57.1%" stop-color="#2af4e0"/><stop offset="71.4%" stop-color="#6afca4"/><stop offset="85.7%" stop-color="#b2ff5a"/><stop offset="100%" stop-color="#e6fc1a"/></linearGradient><linearGradient id="g143" gradientUnits="userSpaceOnUse" x1="415.4" y1="199.7" x2="410.6" y2="204.6"><stop offset="0%" stop-color="#f9f306"/><stop offset="20%" stop-color="#ffce00"/><stop offset="40%" stop-color="#ffa500"/><stop offset="60%" stop-color="#ff7400"/><stop offset="80%" stop-color="#ff4200"/><stop offset="100%" stop-color="#ff2000"/></linearGradient><linearGradient id="g144" gradientUnits="userSpaceOnUse" x1="426.6" y1="192.2" x2="419.3" y2="199.7"><stop offset="0%" stop-color="#0ae8f4"/><stop offset="33.3%" stop-color="#32f5d9"/><stop offset="66.7%" stop-color="#7bfd93"/><stop offset="100%" stop-color="#c5ff42"/></linearGradient><linearGradient id="g145" gradientUnits="userSpaceOnUse" x1="349.7" y1="212.3" x2="360.7" y2="206.8"><stop offset="0%" stop-color="#10eaf0"/><stop offset="25%" stop-color="#34f6d7"/><stop offset="50%" stop-color="#72fd9c"/><stop offset="75%" stop-color="#b5ff56"/><stop offset="100%" stop-color="#e6fc1a"/></linearGradient></defs>
<rect x="242.7" y="34.4" width="184.8" height="184" fill="#fc0400"/>
<g clip-path="url(#cpb)">
<g filter="url(#bl3)" fill="#ffb000" opacity="0.55"><g transform="translate(-2.2,0)"><polygon points="245.3,45.8 256.2,38 259.9,48.2 256.2,54.5 251.9,51.6"/><polygon points="265,61.1 273.8,45.8 280.3,47.2 279.6,58.9 274.5,63.9"/><polygon points="294.2,64.3 300.8,51.9 311,57.7 313.2,66.5 313.9,74.5 309.5,73.1"/><polygon points="248.2,66.5 257.7,57.4 264.3,63.9 262.1,75 256.2,79.3 252.6,73.5"/><polygon points="273.8,73.5 276.2,71.2 288.4,76 289.8,84.3 281.8,88.7 275.2,82.3"/><polygon points="248.9,90.3 257.7,82.8 261.4,88.7 262.8,95.4"/><polygon points="304.4,90.1 313.2,82.6 319.8,87.7 325.6,95.4 321.9,102.7 313.9,105.6 309.5,99.8"/><polygon points="325.6,95.7 331.4,91.3 330,100.1"/><polygon points="273,98.6 277.4,95.7 279.6,101.5 275.2,107.4 273,103"/><polygon points="262.1,114.7 266.5,108.8 273.8,111.8 270.8,119.1 264.3,117.6"/><polygon points="270.8,119.1 273.8,111.8 288.4,116.1 290.6,119.1 281.8,127.8 277.4,129.3"/><polygon points="290.6,119.1 306.6,121.2 311,124.9 310.3,130 300.8,127.1 289.1,123.4"/><polygon points="308.8,119.1 313.9,111 319,117.6 313.9,123.4 310.3,124.9"/><polygon points="325.6,49 331.4,34.8 337.3,34.8 336.5,49 331.4,51.9"/><polygon points="357.7,36.6 377.4,39.5 379.6,40.9 368.7,53.4 359.2,44.6"/><polygon points="384,54.8 390.6,49 401.5,62.8 386.2,65.8"/><polygon points="407.4,36.6 413.2,35.8 427.1,51.9 427.1,57 411.8,54.1"/><polygon points="331.5,59.2 335.1,54.8 340.9,58.5 343.1,62.8 332.2,62.8"/><polygon points="344.6,67.2 349.7,59.9 365,58.5 365.8,61.4 361.4,70.9 361.4,80.4 355.5,86.2 349,83.3"/><polygon points="389.1,85.5 394.2,76 401.5,83.3 400.1,86.9"/><polygon points="365,94.2 383.3,93.5 375.3,103 370.9,103"/><polygon points="331.2,88.7 345.3,86.2 332.9,101.5 331.8,98.9"/><polygon points="410.3,91.3 417.6,86.9 427.5,86.9 427.5,99.3 414.7,96.4"/><polygon points="394.2,104.5 398.6,100.8 408.1,102.3 408.8,105.2 396.4,105.9"/><polygon points="378.2,109.6 390.6,105.9 394.2,107.4 394.2,111.8 381.1,113.9"/><polygon points="335.8,117.6 348.2,105.9 353.4,111.8 354.8,115.4 336.6,119.8"/><polygon points="361.4,112.5 367.2,107.4 371.6,119.1 370.1,123.4 364.3,117.6"/><polygon points="403.7,118.3 417.6,110.3 427.5,108.8 427.5,129.4 416.1,133.1"/><polygon points="253.3,128.6 276.7,130.1 278.1,133.8 274.5,139.6 263.5,140.3 254.8,133.8"/><polygon points="242.7,141.8 249.7,143.2 251.9,153.5 249.7,157.1 242.7,156.4"/><polygon points="298.6,149.8 311.7,137.4 315.4,140.3 318.3,147.6 313.2,156.4 299.3,151.3"/><polygon points="267.2,158.6 272.3,154.2 278.9,161.5 273.8,165.9"/><polygon points="270.1,179 281.1,174.6 289.1,180.5 290.6,184.1 285.4,190.7"/><polygon points="302.2,179.7 311,171.7 313.9,179 317.6,187.8 304.4,183.4"/><polygon points="242.7,182.7 252.6,183.4 255.5,187 251.9,198.7 242.7,193.6"/><polygon points="250.4,203.1 257,199.5 268.7,199.5 272.3,203.8 265,212.6"/><polygon points="290.6,200.9 303.7,197.3 308.1,199.5 310.3,206 295.7,214.8"/><polygon points="330,144.7 332.2,140.8 344.6,153.5 342.4,157.8 330,147.6"/><polygon points="358.5,127.9 367.2,125.7 368.7,129.4 364.3,142.5 362.1,141.8"/><polygon points="386.2,127.9 391.3,123.5 395,124.3 398.6,133.8 392.8,137.4"/><polygon points="387.7,151.3 388.4,143.2 392.8,140.3 400.1,146.9 397.2,149.8"/><polygon points="357.7,150.5 365.8,153.5 361.4,167.3 359.2,167.3"/><polygon points="370.9,165.9 378.9,154.2 383.3,154.2 389.9,164.4 388.4,166.6"/><polygon points="357.7,170.3 364.3,168.1 369.4,168.1 376,175.4 373.8,187.8 368,182.7"/><polygon points="340.2,178.3 343.1,174.6 348.2,174.6 365,192.2 362.8,196.5 354.8,195.1 343.1,188.5"/><polygon points="399.3,174.6 413.9,168.1 427.5,174.6 427.5,184.9 414.7,180.5"/><polygon points="385.5,195.8 392.8,189.2 409.6,203.1 405.9,200.9 386.2,202.4"/><polygon points="386.2,202.4 405.9,199.7 409.6,203.1 398.6,213.3"/><polygon points="417.6,195.8 427.5,190.7 427.5,212.6"/><polygon points="348.2,212.6 359.2,202.4 361.4,207.5 359.9,211.9"/></g><g transform="translate(2.2,0)"><polygon points="245.3,45.8 256.2,38 259.9,48.2 256.2,54.5 251.9,51.6"/><polygon points="265,61.1 273.8,45.8 280.3,47.2 279.6,58.9 274.5,63.9"/><polygon points="294.2,64.3 300.8,51.9 311,57.7 313.2,66.5 313.9,74.5 309.5,73.1"/><polygon points="248.2,66.5 257.7,57.4 264.3,63.9 262.1,75 256.2,79.3 252.6,73.5"/><polygon points="273.8,73.5 276.2,71.2 288.4,76 289.8,84.3 281.8,88.7 275.2,82.3"/><polygon points="248.9,90.3 257.7,82.8 261.4,88.7 262.8,95.4"/><polygon points="304.4,90.1 313.2,82.6 319.8,87.7 325.6,95.4 321.9,102.7 313.9,105.6 309.5,99.8"/><polygon points="325.6,95.7 331.4,91.3 330,100.1"/><polygon points="273,98.6 277.4,95.7 279.6,101.5 275.2,107.4 273,103"/><polygon points="262.1,114.7 266.5,108.8 273.8,111.8 270.8,119.1 264.3,117.6"/><polygon points="270.8,119.1 273.8,111.8 288.4,116.1 290.6,119.1 281.8,127.8 277.4,129.3"/><polygon points="290.6,119.1 306.6,121.2 311,124.9 310.3,130 300.8,127.1 289.1,123.4"/><polygon points="308.8,119.1 313.9,111 319,117.6 313.9,123.4 310.3,124.9"/><polygon points="325.6,49 331.4,34.8 337.3,34.8 336.5,49 331.4,51.9"/><polygon points="357.7,36.6 377.4,39.5 379.6,40.9 368.7,53.4 359.2,44.6"/><polygon points="384,54.8 390.6,49 401.5,62.8 386.2,65.8"/><polygon points="407.4,36.6 413.2,35.8 427.1,51.9 427.1,57 411.8,54.1"/><polygon points="331.5,59.2 335.1,54.8 340.9,58.5 343.1,62.8 332.2,62.8"/><polygon points="344.6,67.2 349.7,59.9 365,58.5 365.8,61.4 361.4,70.9 361.4,80.4 355.5,86.2 349,83.3"/><polygon points="389.1,85.5 394.2,76 401.5,83.3 400.1,86.9"/><polygon points="365,94.2 383.3,93.5 375.3,103 370.9,103"/><polygon points="331.2,88.7 345.3,86.2 332.9,101.5 331.8,98.9"/><polygon points="410.3,91.3 417.6,86.9 427.5,86.9 427.5,99.3 414.7,96.4"/><polygon points="394.2,104.5 398.6,100.8 408.1,102.3 408.8,105.2 396.4,105.9"/><polygon points="378.2,109.6 390.6,105.9 394.2,107.4 394.2,111.8 381.1,113.9"/><polygon points="335.8,117.6 348.2,105.9 353.4,111.8 354.8,115.4 336.6,119.8"/><polygon points="361.4,112.5 367.2,107.4 371.6,119.1 370.1,123.4 364.3,117.6"/><polygon points="403.7,118.3 417.6,110.3 427.5,108.8 427.5,129.4 416.1,133.1"/><polygon points="253.3,128.6 276.7,130.1 278.1,133.8 274.5,139.6 263.5,140.3 254.8,133.8"/><polygon points="242.7,141.8 249.7,143.2 251.9,153.5 249.7,157.1 242.7,156.4"/><polygon points="298.6,149.8 311.7,137.4 315.4,140.3 318.3,147.6 313.2,156.4 299.3,151.3"/><polygon points="267.2,158.6 272.3,154.2 278.9,161.5 273.8,165.9"/><polygon points="270.1,179 281.1,174.6 289.1,180.5 290.6,184.1 285.4,190.7"/><polygon points="302.2,179.7 311,171.7 313.9,179 317.6,187.8 304.4,183.4"/><polygon points="242.7,182.7 252.6,183.4 255.5,187 251.9,198.7 242.7,193.6"/><polygon points="250.4,203.1 257,199.5 268.7,199.5 272.3,203.8 265,212.6"/><polygon points="290.6,200.9 303.7,197.3 308.1,199.5 310.3,206 295.7,214.8"/><polygon points="330,144.7 332.2,140.8 344.6,153.5 342.4,157.8 330,147.6"/><polygon points="358.5,127.9 367.2,125.7 368.7,129.4 364.3,142.5 362.1,141.8"/><polygon points="386.2,127.9 391.3,123.5 395,124.3 398.6,133.8 392.8,137.4"/><polygon points="387.7,151.3 388.4,143.2 392.8,140.3 400.1,146.9 397.2,149.8"/><polygon points="357.7,150.5 365.8,153.5 361.4,167.3 359.2,167.3"/><polygon points="370.9,165.9 378.9,154.2 383.3,154.2 389.9,164.4 388.4,166.6"/><polygon points="357.7,170.3 364.3,168.1 369.4,168.1 376,175.4 373.8,187.8 368,182.7"/><polygon points="340.2,178.3 343.1,174.6 348.2,174.6 365,192.2 362.8,196.5 354.8,195.1 343.1,188.5"/><polygon points="399.3,174.6 413.9,168.1 427.5,174.6 427.5,184.9 414.7,180.5"/><polygon points="385.5,195.8 392.8,189.2 409.6,203.1 405.9,200.9 386.2,202.4"/><polygon points="386.2,202.4 405.9,199.7 409.6,203.1 398.6,213.3"/><polygon points="417.6,195.8 427.5,190.7 427.5,212.6"/><polygon points="348.2,212.6 359.2,202.4 361.4,207.5 359.9,211.9"/></g></g>
<g filter="url(#bl)"><polygon points="280.3,47.5 296.4,56.3 294.2,64.3 280.3,60.7" fill="url(#g81)"/><polygon points="311,57.7 320.5,62.8 322.7,70.1 313.9,74.5 313.2,66.5" fill="url(#g83)"/><polygon points="289.8,75.3 300.8,80.4 302.2,88.4 289.8,84.7" fill="url(#g86)"/><polygon points="298.6,91.3 304.4,90.1 309.5,99.8 306.6,103.7 299.3,98.6" fill="url(#g88)"/><polygon points="319,34.8 331.4,34.8 325.6,50.4" fill="url(#g96)"/><polygon points="337.3,34.8 357.7,36.6 358.5,44.6 343.1,50.4 336.6,49" fill="url(#g98)"/><polygon points="419.8,34.8 427.5,34.8 427.5,44.6" fill="url(#g101)"/><polygon points="365.8,61.4 374.5,66.5 371.6,77.4 361.4,80.4 361.4,70.9" fill="url(#g105)"/><polygon points="398.6,120.5 403.7,118.3 408.8,130 401.5,130" fill="url(#g115)"/><polygon points="330,113.9 334.4,112.9 335.5,119.3 330,119.3" fill="url(#g116)"/><polygon points="318.3,147.6 331.4,141.1 338,145.4 338,154.2 328.5,152.7 317.6,150.1" fill="url(#g120)"/><polygon points="289.8,181.2 302.2,179.7 303.4,183.1 290.6,186.3" fill="url(#g123)"/><polygon points="313.9,175.4 331.4,177.6 338,181.2 338,187 317.6,187.8" fill="url(#g125)"/><polygon points="330,145.4 342.4,157.8 338.8,163 330,158.6" fill="url(#g129)"/><polygon points="365.8,153.5 373.8,157.1 369.4,166.6 361.4,167.3" fill="url(#g135)"/><polygon points="330,177.6 340.2,178.3 341.4,187 330,187" fill="url(#g138)"/><polygon points="409.6,203.1 415.4,196.5 418.3,195.8 426.4,211.9" fill="url(#g143)"/><circle cx="244.1" cy="45.8" r="4.3" fill="url(#hy)"/><circle cx="261.1" cy="48.2" r="4.3" fill="url(#hy)"/><circle cx="263.8" cy="61.1" r="4.3" fill="url(#hy)"/><circle cx="281.2" cy="53.1" r="7.8" fill="url(#hy)"/><circle cx="293" cy="64.3" r="4.3" fill="url(#hy)"/><circle cx="314.7" cy="70.5" r="6.7" fill="url(#hy)"/><circle cx="247" cy="66.5" r="4.3" fill="url(#hy)"/><circle cx="265.5" cy="63.9" r="4.3" fill="url(#hy)"/><circle cx="272.6" cy="73.5" r="4.3" fill="url(#hy)"/><circle cx="291" cy="84.3" r="4.3" fill="url(#hy)"/><circle cx="247.7" cy="90.3" r="4.3" fill="url(#hy)"/><circle cx="264" cy="95.4" r="4.3" fill="url(#hy)"/><circle cx="303.2" cy="90.1" r="4.3" fill="url(#hy)"/><circle cx="326.8" cy="95.4" r="4.3" fill="url(#hy)"/><circle cx="324.4" cy="95.7" r="4.3" fill="url(#hy)"/><circle cx="332.6" cy="91.3" r="4.3" fill="url(#hy)"/><circle cx="271.8" cy="100.8" r="5.6" fill="url(#hy)"/><circle cx="280.8" cy="101.5" r="4.3" fill="url(#hy)"/><circle cx="260.9" cy="114.7" r="4.3" fill="url(#hy)"/><circle cx="275" cy="111.8" r="4.3" fill="url(#hy)"/><circle cx="269.6" cy="119.1" r="4.3" fill="url(#hy)"/><circle cx="291.8" cy="119.1" r="4.3" fill="url(#hy)"/><circle cx="287.9" cy="123.4" r="4.3" fill="url(#hy)"/><circle cx="311.8" cy="127.4" r="5.8" fill="url(#hy)"/><circle cx="307.6" cy="119.1" r="4.3" fill="url(#hy)"/><circle cx="320.2" cy="117.6" r="4.3" fill="url(#hy)"/><circle cx="324.4" cy="49" r="4.3" fill="url(#hy)"/><circle cx="338.1" cy="41.9" r="8.5" fill="url(#hy)"/><circle cx="356.5" cy="36.6" r="4.3" fill="url(#hy)"/><circle cx="380.8" cy="40.9" r="4.3" fill="url(#hy)"/><circle cx="382.8" cy="54.8" r="4.3" fill="url(#hy)"/><circle cx="402.7" cy="62.8" r="4.3" fill="url(#hy)"/><circle cx="406.2" cy="36.6" r="4.3" fill="url(#hy)"/><circle cx="428.3" cy="54.5" r="5.8" fill="url(#hy)"/><circle cx="330.6" cy="61" r="5.4" fill="url(#hy)"/><circle cx="344.3" cy="62.8" r="4.3" fill="url(#hy)"/><circle cx="343.4" cy="67.2" r="4.3" fill="url(#hy)"/><circle cx="366.6" cy="59.9" r="5.2" fill="url(#hy)"/><circle cx="387.9" cy="85.5" r="4.3" fill="url(#hy)"/><circle cx="402.7" cy="83.3" r="4.3" fill="url(#hy)"/><circle cx="363.8" cy="94.2" r="4.3" fill="url(#hy)"/><circle cx="384.5" cy="93.5" r="4.3" fill="url(#hy)"/><circle cx="330.3" cy="93.8" r="7.4" fill="url(#hy)"/><circle cx="346.5" cy="86.2" r="4.3" fill="url(#hy)"/><circle cx="409.1" cy="91.3" r="4.3" fill="url(#hy)"/><circle cx="428.7" cy="93.1" r="8" fill="url(#hy)"/><circle cx="393" cy="104.5" r="4.3" fill="url(#hy)"/><circle cx="409.7" cy="103.7" r="5.2" fill="url(#hy)"/><circle cx="377" cy="109.6" r="4.3" fill="url(#hy)"/><circle cx="395.4" cy="109.6" r="5.6" fill="url(#hy)"/><circle cx="335" cy="118.7" r="5" fill="url(#hy)"/><circle cx="356" cy="115.4" r="4.3" fill="url(#hy)"/><circle cx="360.2" cy="112.5" r="4.3" fill="url(#hy)"/><circle cx="372.8" cy="119.1" r="4.3" fill="url(#hy)"/><circle cx="402.5" cy="118.3" r="4.3" fill="url(#hy)"/><circle cx="428.7" cy="119.1" r="10.5" fill="url(#hy)"/><circle cx="252.1" cy="128.6" r="4.3" fill="url(#hy)"/><circle cx="279.3" cy="133.8" r="4.3" fill="url(#hy)"/><circle cx="241.5" cy="149.1" r="8.7" fill="url(#hy)"/><circle cx="253.1" cy="153.5" r="4.3" fill="url(#hy)"/><circle cx="297.7" cy="150.5" r="4.7" fill="url(#hy)"/><circle cx="319.5" cy="147.6" r="4.3" fill="url(#hy)"/><circle cx="266" cy="158.6" r="4.3" fill="url(#hy)"/><circle cx="280.1" cy="161.5" r="4.3" fill="url(#hy)"/><circle cx="268.9" cy="179" r="4.3" fill="url(#hy)"/><circle cx="291.8" cy="184.1" r="4.3" fill="url(#hy)"/><circle cx="301" cy="179.7" r="4.3" fill="url(#hy)"/><circle cx="318.8" cy="187.8" r="4.3" fill="url(#hy)"/><circle cx="241.5" cy="188.1" r="7.6" fill="url(#hy)"/><circle cx="256.7" cy="187" r="4.3" fill="url(#hy)"/><circle cx="249.2" cy="203.1" r="4.3" fill="url(#hy)"/><circle cx="273.5" cy="203.8" r="4.3" fill="url(#hy)"/><circle cx="289.4" cy="200.9" r="4.3" fill="url(#hy)"/><circle cx="311.5" cy="206" r="4.3" fill="url(#hy)"/><circle cx="328.8" cy="146.2" r="5.2" fill="url(#hy)"/><circle cx="345.8" cy="153.5" r="4.3" fill="url(#hy)"/><circle cx="357.3" cy="127.9" r="4.3" fill="url(#hy)"/><circle cx="369.9" cy="129.4" r="4.3" fill="url(#hy)"/><circle cx="385" cy="127.9" r="4.3" fill="url(#hy)"/><circle cx="399.8" cy="133.8" r="4.3" fill="url(#hy)"/><circle cx="386.8" cy="147.3" r="6.7" fill="url(#hy)"/><circle cx="401.3" cy="146.9" r="4.3" fill="url(#hy)"/><circle cx="356.5" cy="150.5" r="4.3" fill="url(#hy)"/><circle cx="367" cy="153.5" r="4.3" fill="url(#hy)"/><circle cx="369.7" cy="165.9" r="4.3" fill="url(#hy)"/><circle cx="391.1" cy="164.4" r="4.3" fill="url(#hy)"/><circle cx="356.5" cy="170.3" r="4.3" fill="url(#hy)"/><circle cx="377.2" cy="175.4" r="4.3" fill="url(#hy)"/><circle cx="339" cy="178.3" r="4.3" fill="url(#hy)"/><circle cx="366.2" cy="192.2" r="4.3" fill="url(#hy)"/><circle cx="398.1" cy="174.6" r="4.3" fill="url(#hy)"/><circle cx="428.7" cy="179.7" r="7.4" fill="url(#hy)"/><circle cx="384.6" cy="199.1" r="6.3" fill="url(#hy)"/><circle cx="410.8" cy="203.1" r="4.3" fill="url(#hy)"/><circle cx="385" cy="202.4" r="4.3" fill="url(#hy)"/><circle cx="410.8" cy="203.1" r="4.3" fill="url(#hy)"/><circle cx="416.4" cy="195.8" r="4.3" fill="url(#hy)"/><circle cx="428.7" cy="201.6" r="10.9" fill="url(#hy)"/><circle cx="347" cy="212.6" r="4.3" fill="url(#hy)"/><circle cx="362.6" cy="207.5" r="4.3" fill="url(#hy)"/></g>
<use href="#vor" x="242.7" y="34.4"/>
<g filter="url(#bl2)" stroke="#40100c" stroke-width="0.4" stroke-linejoin="round"><polygon points="245.3,45.8 256.2,38 259.9,48.2 256.2,54.5 251.9,51.6" fill="url(#g79)"/><polygon points="265,61.1 273.8,45.8 280.3,47.2 279.6,58.9 274.5,63.9" fill="url(#g80)"/><polygon points="294.2,64.3 300.8,51.9 311,57.7 313.2,66.5 313.9,74.5 309.5,73.1" fill="url(#g82)"/><polygon points="248.2,66.5 257.7,57.4 264.3,63.9 262.1,75 256.2,79.3 252.6,73.5" fill="url(#g84)"/><polygon points="273.8,73.5 276.2,71.2 288.4,76 289.8,84.3 281.8,88.7 275.2,82.3" fill="url(#g85)"/><polygon points="248.9,90.3 257.7,82.8 261.4,88.7 262.8,95.4" fill="url(#g87)"/><polygon points="304.4,90.1 313.2,82.6 319.8,87.7 325.6,95.4 321.9,102.7 313.9,105.6 309.5,99.8" fill="url(#g89)"/><polygon points="325.6,95.7 331.4,91.3 330,100.1" fill="url(#g90)"/><polygon points="273,98.6 277.4,95.7 279.6,101.5 275.2,107.4 273,103" fill="url(#g91)"/><polygon points="262.1,114.7 266.5,108.8 273.8,111.8 270.8,119.1 264.3,117.6" fill="url(#g92)"/><polygon points="270.8,119.1 273.8,111.8 288.4,116.1 290.6,119.1 281.8,127.8 277.4,129.3" fill="url(#g93)"/><polygon points="290.6,119.1 306.6,121.2 311,124.9 310.3,130 300.8,127.1 289.1,123.4" fill="url(#g94)"/><polygon points="308.8,119.1 313.9,111 319,117.6 313.9,123.4 310.3,124.9" fill="url(#g95)"/><polygon points="325.6,49 331.4,34.8 337.3,34.8 336.5,49 331.4,51.9" fill="url(#g97)"/><polygon points="357.7,36.6 377.4,39.5 379.6,40.9 368.7,53.4 359.2,44.6" fill="url(#g99)"/><polygon points="384,54.8 390.6,49 401.5,62.8 386.2,65.8" fill="url(#g100)"/><polygon points="407.4,36.6 413.2,35.8 427.1,51.9 427.1,57 411.8,54.1" fill="url(#g102)"/><polygon points="331.5,59.2 335.1,54.8 340.9,58.5 343.1,62.8 332.2,62.8" fill="url(#g103)"/><polygon points="344.6,67.2 349.7,59.9 365,58.5 365.8,61.4 361.4,70.9 361.4,80.4 355.5,86.2 349,83.3" fill="url(#g104)"/><polygon points="389.1,85.5 394.2,76 401.5,83.3 400.1,86.9" fill="url(#g106)"/><polygon points="365,94.2 383.3,93.5 375.3,103 370.9,103" fill="url(#g107)"/><polygon points="331.2,88.7 345.3,86.2 332.9,101.5 331.8,98.9" fill="url(#g108)"/><polygon points="410.3,91.3 417.6,86.9 427.5,86.9 427.5,99.3 414.7,96.4" fill="url(#g109)"/><polygon points="394.2,104.5 398.6,100.8 408.1,102.3 408.8,105.2 396.4,105.9" fill="url(#g110)"/><polygon points="378.2,109.6 390.6,105.9 394.2,107.4 394.2,111.8 381.1,113.9" fill="url(#g111)"/><polygon points="335.8,117.6 348.2,105.9 353.4,111.8 354.8,115.4 336.6,119.8" fill="url(#g112)"/><polygon points="361.4,112.5 367.2,107.4 371.6,119.1 370.1,123.4 364.3,117.6" fill="url(#g113)"/><polygon points="403.7,118.3 417.6,110.3 427.5,108.8 427.5,129.4 416.1,133.1" fill="url(#g114)"/><polygon points="253.3,128.6 276.7,130.1 278.1,133.8 274.5,139.6 263.5,140.3 254.8,133.8" fill="url(#g117)"/><polygon points="242.7,141.8 249.7,143.2 251.9,153.5 249.7,157.1 242.7,156.4" fill="url(#g118)"/><polygon points="298.6,149.8 311.7,137.4 315.4,140.3 318.3,147.6 313.2,156.4 299.3,151.3" fill="url(#g119)"/><polygon points="267.2,158.6 272.3,154.2 278.9,161.5 273.8,165.9" fill="url(#g121)"/><polygon points="270.1,179 281.1,174.6 289.1,180.5 290.6,184.1 285.4,190.7" fill="url(#g122)"/><polygon points="302.2,179.7 311,171.7 313.9,179 317.6,187.8 304.4,183.4" fill="url(#g124)"/><polygon points="242.7,182.7 252.6,183.4 255.5,187 251.9,198.7 242.7,193.6" fill="url(#g126)"/><polygon points="250.4,203.1 257,199.5 268.7,199.5 272.3,203.8 265,212.6" fill="url(#g127)"/><polygon points="290.6,200.9 303.7,197.3 308.1,199.5 310.3,206 295.7,214.8" fill="url(#g128)"/><polygon points="330,144.7 332.2,140.8 344.6,153.5 342.4,157.8 330,147.6" fill="url(#g130)"/><polygon points="358.5,127.9 367.2,125.7 368.7,129.4 364.3,142.5 362.1,141.8" fill="url(#g131)"/><polygon points="386.2,127.9 391.3,123.5 395,124.3 398.6,133.8 392.8,137.4" fill="url(#g132)"/><polygon points="387.7,151.3 388.4,143.2 392.8,140.3 400.1,146.9 397.2,149.8" fill="url(#g133)"/><polygon points="357.7,150.5 365.8,153.5 361.4,167.3 359.2,167.3" fill="url(#g134)"/><polygon points="370.9,165.9 378.9,154.2 383.3,154.2 389.9,164.4 388.4,166.6" fill="url(#g136)"/><polygon points="357.7,170.3 364.3,168.1 369.4,168.1 376,175.4 373.8,187.8 368,182.7" fill="url(#g137)"/><polygon points="340.2,178.3 343.1,174.6 348.2,174.6 365,192.2 362.8,196.5 354.8,195.1 343.1,188.5" fill="url(#g139)"/><polygon points="399.3,174.6 413.9,168.1 427.5,174.6 427.5,184.9 414.7,180.5" fill="url(#g140)"/><polygon points="385.5,195.8 392.8,189.2 409.6,203.1 405.9,200.9 386.2,202.4" fill="url(#g141)"/><polygon points="386.2,202.4 405.9,199.7 409.6,203.1 398.6,213.3" fill="url(#g142)"/><polygon points="417.6,195.8 427.5,190.7 427.5,212.6" fill="url(#g144)"/><polygon points="348.2,212.6 359.2,202.4 361.4,207.5 359.9,211.9" fill="url(#g145)"/></g>
</g>
<defs><clipPath id="cpc"><rect x="449.1" y="34.5" width="185.1" height="184.9"/></clipPath><linearGradient id="g146" gradientUnits="userSpaceOnUse" x1="466.6" y1="43.6" x2="479" y2="42.9"><stop offset="0%" stop-color="#f9f306"/><stop offset="20%" stop-color="#ffce00"/><stop offset="40%" stop-color="#ffa500"/><stop offset="60%" stop-color="#ff7400"/><stop offset="80%" stop-color="#ff4200"/><stop offset="100%" stop-color="#ff2000"/></linearGradient><linearGradient id="g147" gradientUnits="userSpaceOnUse" x1="452.5" y1="46.5" x2="465.2" y2="43.6"><stop offset="0%" stop-color="#0053fc"/><stop offset="20%" stop-color="#0088ff"/><stop offset="40%" stop-color="#00b3ff"/><stop offset="60%" stop-color="#00d5f9"/><stop offset="80%" stop-color="#0ae7f4"/><stop offset="100%" stop-color="#28f4e2"/></linearGradient><linearGradient id="g148" gradientUnits="userSpaceOnUse" x1="475.4" y1="39.2" x2="502.4" y2="37.8"><stop offset="0%" stop-color="#ff5800"/><stop offset="25%" stop-color="#ff8e00"/><stop offset="50%" stop-color="#ffbe00"/><stop offset="75%" stop-color="#ffeb00"/><stop offset="100%" stop-color="#e0ff20"/></linearGradient><linearGradient id="g149" gradientUnits="userSpaceOnUse" x1="504.6" y1="37.8" x2="528.4" y2="46.5"><stop offset="0%" stop-color="#0ae8f4"/><stop offset="50%" stop-color="#2ef5dc"/><stop offset="100%" stop-color="#72fd9c"/></linearGradient><linearGradient id="g150" gradientUnits="userSpaceOnUse" x1="526.5" y1="41.4" x2="536.7" y2="38.5"><stop offset="0%" stop-color="#87fe87"/><stop offset="25%" stop-color="#beff4b"/><stop offset="50%" stop-color="#e8fb18"/><stop offset="75%" stop-color="#ffeb00"/><stop offset="100%" stop-color="#ffc800"/></linearGradient><linearGradient id="g151" gradientUnits="userSpaceOnUse" x1="536.7" y1="40.7" x2="544" y2="42.1"><stop offset="0%" stop-color="#ffc800"/><stop offset="25%" stop-color="#ffa500"/><stop offset="50%" stop-color="#ff7c00"/><stop offset="75%" stop-color="#ff5200"/><stop offset="100%" stop-color="#ff3000"/></linearGradient><linearGradient id="g152" gradientUnits="userSpaceOnUse" x1="480.5" y1="80.1" x2="465.9" y2="83"><stop offset="0%" stop-color="#f9f306"/><stop offset="20%" stop-color="#ffcd00"/><stop offset="40%" stop-color="#ffa200"/><stop offset="60%" stop-color="#ff6e00"/><stop offset="80%" stop-color="#ff3c00"/><stop offset="100%" stop-color="#fe1b00"/></linearGradient><linearGradient id="g153" gradientUnits="userSpaceOnUse" x1="480.5" y1="72.5" x2="495.1" y2="87.1"><stop offset="0%" stop-color="#22f2e6"/><stop offset="20%" stop-color="#08e5f5"/><stop offset="40%" stop-color="#00d4f9"/><stop offset="60%" stop-color="#00b5ff"/><stop offset="80%" stop-color="#008eff"/><stop offset="100%" stop-color="#0060ff"/></linearGradient><linearGradient id="g154" gradientUnits="userSpaceOnUse" x1="469.1" y1="91.5" x2="484.1" y2="91"><stop offset="0%" stop-color="#f9f306"/><stop offset="20%" stop-color="#ffce00"/><stop offset="40%" stop-color="#ffa500"/><stop offset="60%" stop-color="#ff7400"/><stop offset="80%" stop-color="#ff4200"/><stop offset="100%" stop-color="#ff2000"/></linearGradient><linearGradient id="g155" gradientUnits="userSpaceOnUse" x1="456.8" y1="91.5" x2="466.6" y2="87.1"><stop offset="0%" stop-color="#002df3"/><stop offset="20%" stop-color="#006aff"/><stop offset="40%" stop-color="#0098ff"/><stop offset="60%" stop-color="#00befe"/><stop offset="80%" stop-color="#02dbf7"/><stop offset="100%" stop-color="#10eaf0"/></linearGradient><linearGradient id="g156" gradientUnits="userSpaceOnUse" x1="518.7" y1="77.9" x2="538.9" y2="78.6"><stop offset="0%" stop-color="#34f6d7"/><stop offset="20%" stop-color="#0ee9f2"/><stop offset="40%" stop-color="#00d9f8"/><stop offset="60%" stop-color="#00b6ff"/><stop offset="80%" stop-color="#008aff"/><stop offset="100%" stop-color="#0053fc"/></linearGradient><linearGradient id="g157" gradientUnits="userSpaceOnUse" x1="498.7" y1="107.8" x2="489.5" y2="102.7"><stop offset="0%" stop-color="#f9f306"/><stop offset="20%" stop-color="#ffcd00"/><stop offset="40%" stop-color="#ffa200"/><stop offset="60%" stop-color="#ff6e00"/><stop offset="80%" stop-color="#ff3c00"/><stop offset="100%" stop-color="#fe1b00"/></linearGradient><linearGradient id="g158" gradientUnits="userSpaceOnUse" x1="498.7" y1="105.6" x2="516.3" y2="104.6"><stop offset="0%" stop-color="#58fab5"/><stop offset="20%" stop-color="#20f1e7"/><stop offset="40%" stop-color="#07e3f5"/><stop offset="60%" stop-color="#00ccfb"/><stop offset="80%" stop-color="#00a6ff"/><stop offset="100%" stop-color="#0078ff"/></linearGradient><linearGradient id="g159" gradientUnits="userSpaceOnUse" x1="539" y1="40.7" x2="544.1" y2="42.1"><stop offset="0%" stop-color="#ffb400"/><stop offset="33.3%" stop-color="#ff8000"/><stop offset="66.7%" stop-color="#ff4800"/><stop offset="100%" stop-color="#ff2000"/></linearGradient><linearGradient id="g160" gradientUnits="userSpaceOnUse" x1="575.5" y1="54.1" x2="582.8" y2="56.7"><stop offset="0%" stop-color="#fff000"/><stop offset="25%" stop-color="#ffc800"/><stop offset="50%" stop-color="#ffa000"/><stop offset="75%" stop-color="#ff7000"/><stop offset="100%" stop-color="#ff4000"/></linearGradient><linearGradient id="g161" gradientUnits="userSpaceOnUse" x1="564.1" y1="44.8" x2="565.6" y2="60.8"><stop offset="0%" stop-color="#22f2e6"/><stop offset="20%" stop-color="#08e5f5"/><stop offset="40%" stop-color="#00d2f9"/><stop offset="60%" stop-color="#00b0ff"/><stop offset="80%" stop-color="#0086ff"/><stop offset="100%" stop-color="#0053fc"/></linearGradient><linearGradient id="g162" gradientUnits="userSpaceOnUse" x1="609.1" y1="61.8" x2="623.7" y2="60.4"><stop offset="0%" stop-color="#fff000"/><stop offset="16.7%" stop-color="#ffcb00"/><stop offset="33.3%" stop-color="#ffa700"/><stop offset="50%" stop-color="#ff7c00"/><stop offset="66.7%" stop-color="#ff5000"/><stop offset="83.3%" stop-color="#ff2d00"/><stop offset="100%" stop-color="#fc1300"/></linearGradient><linearGradient id="g163" gradientUnits="userSpaceOnUse" x1="595.2" y1="50.6" x2="600.6" y2="65.8"><stop offset="0%" stop-color="#22f2e6"/><stop offset="20%" stop-color="#08e5f5"/><stop offset="40%" stop-color="#00d2f9"/><stop offset="60%" stop-color="#00b0ff"/><stop offset="80%" stop-color="#0086ff"/><stop offset="100%" stop-color="#0053fc"/></linearGradient><linearGradient id="g164" gradientUnits="userSpaceOnUse" x1="564.1" y1="85.2" x2="587.9" y2="90.6"><stop offset="0%" stop-color="#08e5f5"/><stop offset="25%" stop-color="#00d2f9"/><stop offset="50%" stop-color="#00b0ff"/><stop offset="75%" stop-color="#0086ff"/><stop offset="100%" stop-color="#0053fc"/></linearGradient><linearGradient id="g165" gradientUnits="userSpaceOnUse" x1="544.5" y1="118.3" x2="556.8" y2="108.6"><stop offset="0%" stop-color="#0053fc"/><stop offset="20%" stop-color="#0086ff"/><stop offset="40%" stop-color="#00b0ff"/><stop offset="60%" stop-color="#00d2f9"/><stop offset="80%" stop-color="#08e5f5"/><stop offset="100%" stop-color="#22f2e6"/></linearGradient><linearGradient id="g166" gradientUnits="userSpaceOnUse" x1="568.2" y1="115.1" x2="560.2" y2="111.5"><stop offset="0%" stop-color="#f9f306"/><stop offset="20%" stop-color="#ffce00"/><stop offset="40%" stop-color="#ffa500"/><stop offset="60%" stop-color="#ff7400"/><stop offset="80%" stop-color="#ff4200"/><stop offset="100%" stop-color="#ff2000"/></linearGradient><linearGradient id="g167" gradientUnits="userSpaceOnUse" x1="579.1" y1="118.1" x2="595.9" y2="116.6"><stop offset="0%" stop-color="#f9f306"/><stop offset="16.7%" stop-color="#ffd200"/><stop offset="33.3%" stop-color="#ffac00"/><stop offset="50%" stop-color="#ff8100"/><stop offset="66.7%" stop-color="#ff5300"/><stop offset="83.3%" stop-color="#ff2e00"/><stop offset="100%" stop-color="#fc1300"/></linearGradient><linearGradient id="g168" gradientUnits="userSpaceOnUse" x1="568.2" y1="112.5" x2="577.2" y2="120.7"><stop offset="0%" stop-color="#19eeeb"/><stop offset="50%" stop-color="#3df7ce"/><stop offset="100%" stop-color="#72fd9c"/></linearGradient><linearGradient id="g169" gradientUnits="userSpaceOnUse" x1="611.3" y1="122.4" x2="604.7" y2="124.6"><stop offset="0%" stop-color="#f9f306"/><stop offset="20%" stop-color="#ffce00"/><stop offset="40%" stop-color="#ffa500"/><stop offset="60%" stop-color="#ff7400"/><stop offset="80%" stop-color="#ff4200"/><stop offset="100%" stop-color="#ff2000"/></linearGradient><linearGradient id="g170" gradientUnits="userSpaceOnUse" x1="612" y1="117.8" x2="633.9" y2="127.5"><stop offset="0%" stop-color="#0053fc"/><stop offset="33.3%" stop-color="#008dff"/><stop offset="66.7%" stop-color="#00baff"/><stop offset="100%" stop-color="#02dbf7"/></linearGradient><linearGradient id="g171" gradientUnits="userSpaceOnUse" x1="458.6" y1="132" x2="449.1" y2="134.9"><stop offset="0%" stop-color="#f9f306"/><stop offset="25%" stop-color="#ffce00"/><stop offset="50%" stop-color="#ffa400"/><stop offset="75%" stop-color="#ff7200"/><stop offset="100%" stop-color="#ff4000"/></linearGradient><linearGradient id="g172" gradientUnits="userSpaceOnUse" x1="471.7" y1="128.8" x2="471.7" y2="141.2"><stop offset="0%" stop-color="#002df3"/><stop offset="16.7%" stop-color="#0066ff"/><stop offset="33.3%" stop-color="#0093ff"/><stop offset="50%" stop-color="#00b8ff"/><stop offset="66.7%" stop-color="#00d6f8"/><stop offset="83.3%" stop-color="#09e6f5"/><stop offset="100%" stop-color="#22f2e6"/></linearGradient><linearGradient id="g173" gradientUnits="userSpaceOnUse" x1="525" y1="148.8" x2="535.2" y2="148.8"><stop offset="0%" stop-color="#f9f306"/><stop offset="16.7%" stop-color="#ffd200"/><stop offset="33.3%" stop-color="#ffac00"/><stop offset="50%" stop-color="#ff8100"/><stop offset="66.7%" stop-color="#ff5300"/><stop offset="83.3%" stop-color="#ff2e00"/><stop offset="100%" stop-color="#fc1300"/></linearGradient><linearGradient id="g174" gradientUnits="userSpaceOnUse" x1="506" y1="151" x2="523.1" y2="145.9"><stop offset="0%" stop-color="#006aff"/><stop offset="20%" stop-color="#0098ff"/><stop offset="40%" stop-color="#00befe"/><stop offset="60%" stop-color="#02dbf7"/><stop offset="80%" stop-color="#10eaf0"/><stop offset="100%" stop-color="#34f6d7"/></linearGradient><linearGradient id="g175" gradientUnits="userSpaceOnUse" x1="502.1" y1="151.7" x2="489.5" y2="159.8"><stop offset="0%" stop-color="#0053fc"/><stop offset="20%" stop-color="#0086ff"/><stop offset="40%" stop-color="#00b0ff"/><stop offset="60%" stop-color="#00d2f9"/><stop offset="80%" stop-color="#08e5f5"/><stop offset="100%" stop-color="#22f2e6"/></linearGradient><linearGradient id="g176" gradientUnits="userSpaceOnUse" x1="477.3" y1="178.3" x2="495.1" y2="187.5"><stop offset="0%" stop-color="#0060ff"/><stop offset="20%" stop-color="#0090ff"/><stop offset="40%" stop-color="#00b8ff"/><stop offset="60%" stop-color="#00d8f8"/><stop offset="80%" stop-color="#0ae8f4"/><stop offset="100%" stop-color="#28f4e2"/></linearGradient><linearGradient id="g177" gradientUnits="userSpaceOnUse" x1="497.4" y1="183.1" x2="506.5" y2="183.6"><stop offset="0%" stop-color="#f9f306"/><stop offset="16.7%" stop-color="#ffd200"/><stop offset="33.3%" stop-color="#ffac00"/><stop offset="50%" stop-color="#ff8100"/><stop offset="66.7%" stop-color="#ff5300"/><stop offset="83.3%" stop-color="#ff2e00"/><stop offset="100%" stop-color="#fc1300"/></linearGradient><linearGradient id="g178" gradientUnits="userSpaceOnUse" x1="530.9" y1="199.2" x2="544" y2="192.6"><stop offset="0%" stop-color="#f0f710"/><stop offset="25%" stop-color="#ffdc00"/><stop offset="50%" stop-color="#ffb400"/><stop offset="75%" stop-color="#ff8800"/><stop offset="100%" stop-color="#ff5800"/></linearGradient><linearGradient id="g179" gradientUnits="userSpaceOnUse" x1="515.2" y1="199.9" x2="530.9" y2="210.1"><stop offset="0%" stop-color="#08e5f5"/><stop offset="33.3%" stop-color="#1ff0e7"/><stop offset="66.7%" stop-color="#4cf9c0"/><stop offset="100%" stop-color="#87fe87"/></linearGradient><linearGradient id="g180" gradientUnits="userSpaceOnUse" x1="614.2" y1="126.2" x2="602.5" y2="129.1"><stop offset="0%" stop-color="#f9f306"/><stop offset="20%" stop-color="#ffce00"/><stop offset="40%" stop-color="#ffa500"/><stop offset="60%" stop-color="#ff7400"/><stop offset="80%" stop-color="#ff4200"/><stop offset="100%" stop-color="#ff2000"/></linearGradient><linearGradient id="g181" gradientUnits="userSpaceOnUse" x1="586" y1="154.9" x2="587.5" y2="167.5"><stop offset="0%" stop-color="#22f2e6"/><stop offset="25%" stop-color="#08e5f5"/><stop offset="50%" stop-color="#00d2f9"/><stop offset="75%" stop-color="#00b0ff"/><stop offset="100%" stop-color="#0086ff"/></linearGradient><linearGradient id="g182" gradientUnits="userSpaceOnUse" x1="606.2" y1="175.4" x2="630.2" y2="178.3"><stop offset="0%" stop-color="#08e5f5"/><stop offset="20%" stop-color="#00d4f9"/><stop offset="40%" stop-color="#00b6ff"/><stop offset="60%" stop-color="#0092ff"/><stop offset="80%" stop-color="#0066ff"/><stop offset="100%" stop-color="#002df3"/></linearGradient><linearGradient id="g183" gradientUnits="userSpaceOnUse" x1="545.6" y1="183.9" x2="539.7" y2="199.9"><stop offset="0%" stop-color="#f9f306"/><stop offset="25%" stop-color="#ffce00"/><stop offset="50%" stop-color="#ffa400"/><stop offset="75%" stop-color="#ff7200"/><stop offset="100%" stop-color="#ff4000"/></linearGradient><linearGradient id="g184" gradientUnits="userSpaceOnUse" x1="571.4" y1="193.8" x2="584.3" y2="194.8"><stop offset="0%" stop-color="#f9f306"/><stop offset="20%" stop-color="#ffce00"/><stop offset="40%" stop-color="#ffa500"/><stop offset="60%" stop-color="#ff7400"/><stop offset="80%" stop-color="#ff4200"/><stop offset="100%" stop-color="#ff2000"/></linearGradient><linearGradient id="g185" gradientUnits="userSpaceOnUse" x1="547.5" y1="178.3" x2="568.5" y2="195.8"><stop offset="0%" stop-color="#10eaf0"/><stop offset="33.3%" stop-color="#01d9f8"/><stop offset="66.7%" stop-color="#00b5ff"/><stop offset="100%" stop-color="#0086ff"/></linearGradient><linearGradient id="g186" gradientUnits="userSpaceOnUse" x1="591.6" y1="198.7" x2="575.5" y2="196.3"><stop offset="0%" stop-color="#f9f306"/><stop offset="20%" stop-color="#ffce00"/><stop offset="40%" stop-color="#ffa500"/><stop offset="60%" stop-color="#ff7400"/><stop offset="80%" stop-color="#ff4200"/><stop offset="100%" stop-color="#ff2000"/></linearGradient><linearGradient id="g187" gradientUnits="userSpaceOnUse" x1="592.7" y1="197" x2="607.9" y2="199.6"><stop offset="0%" stop-color="#22f2e6"/><stop offset="20%" stop-color="#08e5f5"/><stop offset="40%" stop-color="#00d2f9"/><stop offset="60%" stop-color="#00b0ff"/><stop offset="80%" stop-color="#0086ff"/><stop offset="100%" stop-color="#0053fc"/></linearGradient><linearGradient id="g188" gradientUnits="userSpaceOnUse" x1="560.9" y1="211.9" x2="566.2" y2="204.3"><stop offset="0%" stop-color="#0090ff"/><stop offset="25%" stop-color="#00b6ff"/><stop offset="50%" stop-color="#00d5f9"/><stop offset="75%" stop-color="#08e6f5"/><stop offset="100%" stop-color="#22f2e6"/></linearGradient><linearGradient id="g189" gradientUnits="userSpaceOnUse" x1="574.8" y1="124" x2="579.1" y2="124.7"><stop offset="0%" stop-color="#28f4e2"/><stop offset="100%" stop-color="#64fcaa"/></linearGradient></defs>
<rect x="449.1" y="34.5" width="185.1" height="184.9" fill="#fc0400"/>
<g clip-path="url(#cpc)">
<g filter="url(#bl3)" fill="#ffb000" opacity="0.55"><g transform="translate(-2.2,0)"><polygon points="451.3,45.8 462.2,38.1 465.9,48 462.2,54.5"/><polygon points="502.4,34.5 525.8,34.5 528.7,50.2 517.7,57.5 506.8,50.2"/><polygon points="479.8,73.5 482.2,71.3 494.4,76 496.6,85.2 489.3,88.9 481.2,82.3"/><polygon points="454.9,90.3 463.7,82.7 467.4,88.6 468.8,95.4"/><polygon points="518.5,77.2 535.2,69.6 542.1,77.9 544,79.4 540.4,80.1 527.2,84.2 519.9,81.6"/><polygon points="497.3,118.1 495.8,112.2 506.8,90 510.4,90.3 517.7,104.9"/><polygon points="555.1,52.4 564.5,44.3 574.8,54.5 572.6,58.2 556.5,60.4"/><polygon points="590.1,56 595.9,49.4 607.6,62.6 592.3,66.2"/><polygon points="563.1,85.2 568.2,80.1 582.8,79.4 591.6,88.1 590.1,94 573.3,94"/><polygon points="541.9,113.7 554.3,105.6 562.4,114.4 542.6,120.2"/><polygon points="567.5,112.2 574,107.8 578.4,118.8 576.2,123.9 570.4,116.6"/><polygon points="610.5,118.1 617.8,112.9 634.2,108.6 634.2,129.1 622.9,134"/><polygon points="459.3,128.4 482.7,130.1 484.9,133.5 481.2,139.3 470.3,140.8 461.5,134.2"/><polygon points="505.3,150.3 518.5,137.1 524.3,147.4 520.6,156.8 506,151.7"/><polygon points="488.5,159.8 495.1,150.3 503.9,151 503.1,153.9 490,160.5"/><polygon points="476.1,178.7 487.1,174.8 495.8,180.9 496.8,184.1 492.2,191.2"/><polygon points="514.1,199.2 522.8,188.2 527.9,188.2 531.6,213.1 517,206.5"/><polygon points="577,167.1 585.7,153.9 589.4,154.7 596.7,166.3"/><polygon points="605.4,175.1 620,168.5 634.2,174.4 634.2,185.3 620.8,180.9"/><polygon points="546.3,181.7 548.5,176.6 553.6,175.1 570.4,192.6 568.9,197 560.9,195.5 549.9,189.7"/><polygon points="592.3,202.8 592.3,195.5 599.6,189 610.5,198.5 607.6,199.9"/><polygon points="554.3,213.1 565.3,202.8 567.5,207.9 566,212.3"/><polygon points="574.8,124 579.1,124 577.2,125.2"/></g><g transform="translate(2.2,0)"><polygon points="451.3,45.8 462.2,38.1 465.9,48 462.2,54.5"/><polygon points="502.4,34.5 525.8,34.5 528.7,50.2 517.7,57.5 506.8,50.2"/><polygon points="479.8,73.5 482.2,71.3 494.4,76 496.6,85.2 489.3,88.9 481.2,82.3"/><polygon points="454.9,90.3 463.7,82.7 467.4,88.6 468.8,95.4"/><polygon points="518.5,77.2 535.2,69.6 542.1,77.9 544,79.4 540.4,80.1 527.2,84.2 519.9,81.6"/><polygon points="497.3,118.1 495.8,112.2 506.8,90 510.4,90.3 517.7,104.9"/><polygon points="555.1,52.4 564.5,44.3 574.8,54.5 572.6,58.2 556.5,60.4"/><polygon points="590.1,56 595.9,49.4 607.6,62.6 592.3,66.2"/><polygon points="563.1,85.2 568.2,80.1 582.8,79.4 591.6,88.1 590.1,94 573.3,94"/><polygon points="541.9,113.7 554.3,105.6 562.4,114.4 542.6,120.2"/><polygon points="567.5,112.2 574,107.8 578.4,118.8 576.2,123.9 570.4,116.6"/><polygon points="610.5,118.1 617.8,112.9 634.2,108.6 634.2,129.1 622.9,134"/><polygon points="459.3,128.4 482.7,130.1 484.9,133.5 481.2,139.3 470.3,140.8 461.5,134.2"/><polygon points="505.3,150.3 518.5,137.1 524.3,147.4 520.6,156.8 506,151.7"/><polygon points="488.5,159.8 495.1,150.3 503.9,151 503.1,153.9 490,160.5"/><polygon points="476.1,178.7 487.1,174.8 495.8,180.9 496.8,184.1 492.2,191.2"/><polygon points="514.1,199.2 522.8,188.2 527.9,188.2 531.6,213.1 517,206.5"/><polygon points="577,167.1 585.7,153.9 589.4,154.7 596.7,166.3"/><polygon points="605.4,175.1 620,168.5 634.2,174.4 634.2,185.3 620.8,180.9"/><polygon points="546.3,181.7 548.5,176.6 553.6,175.1 570.4,192.6 568.9,197 560.9,195.5 549.9,189.7"/><polygon points="592.3,202.8 592.3,195.5 599.6,189 610.5,198.5 607.6,199.9"/><polygon points="554.3,213.1 565.3,202.8 567.5,207.9 566,212.3"/><polygon points="574.8,124 579.1,124 577.2,125.2"/></g></g>
<g filter="url(#bl)"><polygon points="465.9,39.2 474.7,37.8 480.5,45.1 465.9,49.7" fill="url(#g146)"/><polygon points="473.9,34.5 502.4,34.5 506.8,49.7 495.1,43.6 480.5,45.4" fill="url(#g148)"/><polygon points="525.8,34.5 537.4,34.5 532.3,50.2 528.7,50.2" fill="url(#g150)"/><polygon points="537.4,34.5 544,34.5 544,48 532.3,50.2" fill="url(#g151)"/><polygon points="463,78.6 479.8,74.3 481.2,82.3 487.8,88.1 470.3,91" fill="url(#g152)"/><polygon points="467.4,87.4 480.5,86.7 485.6,93.2 469.5,95.9" fill="url(#g154)"/><polygon points="487.8,99.1 502.4,97.6 495.8,112.2 497.3,118.3" fill="url(#g157)"/><polygon points="539,35.1 543.4,35.1 543.4,48 539,49.4" fill="url(#g159)"/><polygon points="574.8,52.4 589.4,56 588.6,60.4 575.5,57.5" fill="url(#g160)"/><polygon points="607.6,62.6 620.8,53.8 628.1,61.8 612,67.7" fill="url(#g162)"/><polygon points="558,108.6 567.5,111.5 574,123.2 563.8,118.3" fill="url(#g166)"/><polygon points="578.4,113.7 597.4,112.2 600.3,119.5 577,123.9" fill="url(#g167)"/><polygon points="603.2,119.5 610.5,118.1 617.1,129 606.2,129" fill="url(#g169)"/><polygon points="449.1,128.1 459.3,128.1 461.5,134.2 456.4,141.8 449.1,140.4" fill="url(#g171)"/><polygon points="524.3,147.4 534.5,144.4 537.4,151 522.8,153.9" fill="url(#g173)"/><polygon points="496.8,180.2 506.8,180.9 506.8,186 496.8,186" fill="url(#g177)"/><polygon points="527.9,188.2 544,180.2 544,206.5 531.6,213.3" fill="url(#g178)"/><polygon points="600.3,124 614.9,124 621.5,132 607.6,131.3" fill="url(#g180)"/><polygon points="539,179.5 546.3,180.2 549.9,189.7 544.8,211.6 539,211.6" fill="url(#g183)"/><polygon points="570.4,191.9 581.3,189.7 589.4,197 569.7,197.3" fill="url(#g184)"/><polygon points="572.6,192.6 592.3,195.5 592.3,202.8 581.3,201.7" fill="url(#g186)"/><circle cx="450.1" cy="45.8" r="4.3" fill="url(#hy)"/><circle cx="467.1" cy="48" r="4.3" fill="url(#hy)"/><circle cx="501.2" cy="34.5" r="4.3" fill="url(#hy)"/><circle cx="529.9" cy="50.2" r="4.3" fill="url(#hy)"/><circle cx="478.6" cy="73.5" r="4.3" fill="url(#hy)"/><circle cx="497.8" cy="85.2" r="4.3" fill="url(#hy)"/><circle cx="453.7" cy="90.3" r="4.3" fill="url(#hy)"/><circle cx="470" cy="95.4" r="4.3" fill="url(#hy)"/><circle cx="517.3" cy="77.2" r="4.3" fill="url(#hy)"/><circle cx="545.2" cy="79.4" r="4.3" fill="url(#hy)"/><circle cx="494.6" cy="112.2" r="4.3" fill="url(#hy)"/><circle cx="518.9" cy="104.9" r="4.3" fill="url(#hy)"/><circle cx="537.4" cy="115.9" r="4.4" fill="url(#hy)"/><circle cx="449.8" cy="43.6" r="4.1" fill="url(#hy)"/><circle cx="450.1" cy="50.9" r="4.7" fill="url(#hy)"/><circle cx="450.6" cy="83.7" r="4.4" fill="url(#hy)"/><circle cx="451.3" cy="88.9" r="4.4" fill="url(#hy)"/><circle cx="499.2" cy="80.8" r="3.8" fill="url(#hy)"/><circle cx="516.3" cy="78.6" r="3.8" fill="url(#hy)"/><circle cx="519.6" cy="102.3" r="3.8" fill="url(#hy)"/><circle cx="553.9" cy="52.4" r="4.3" fill="url(#hy)"/><circle cx="576" cy="54.5" r="4.3" fill="url(#hy)"/><circle cx="588.9" cy="56" r="4.3" fill="url(#hy)"/><circle cx="608.8" cy="62.6" r="4.3" fill="url(#hy)"/><circle cx="561.9" cy="85.2" r="4.3" fill="url(#hy)"/><circle cx="592.8" cy="88.1" r="4.3" fill="url(#hy)"/><circle cx="541.1" cy="117" r="6.3" fill="url(#hy)"/><circle cx="563.6" cy="114.4" r="4.3" fill="url(#hy)"/><circle cx="566.3" cy="112.2" r="4.3" fill="url(#hy)"/><circle cx="579.6" cy="118.8" r="4.3" fill="url(#hy)"/><circle cx="609.3" cy="118.1" r="4.3" fill="url(#hy)"/><circle cx="635.4" cy="118.9" r="10.5" fill="url(#hy)"/><circle cx="546" cy="76.9" r="4.4" fill="url(#hy)"/><circle cx="552.4" cy="56" r="4.4" fill="url(#hy)"/><circle cx="587.9" cy="58.9" r="4.4" fill="url(#hy)"/><circle cx="560.9" cy="86.7" r="3.5" fill="url(#hy)"/><circle cx="593.3" cy="87.7" r="3.8" fill="url(#hy)"/><circle cx="540.2" cy="116.6" r="3.5" fill="url(#hy)"/><circle cx="458.1" cy="128.4" r="4.3" fill="url(#hy)"/><circle cx="486.1" cy="133.5" r="4.3" fill="url(#hy)"/><circle cx="504.5" cy="151" r="4.7" fill="url(#hy)"/><circle cx="525.5" cy="147.4" r="4.3" fill="url(#hy)"/><circle cx="487.3" cy="159.8" r="4.3" fill="url(#hy)"/><circle cx="504.7" cy="152.5" r="5.2" fill="url(#hy)"/><circle cx="474.9" cy="178.7" r="4.3" fill="url(#hy)"/><circle cx="497.5" cy="182.5" r="5.3" fill="url(#hy)"/><circle cx="512.9" cy="199.2" r="4.3" fill="url(#hy)"/><circle cx="532.8" cy="213.1" r="4.3" fill="url(#hy)"/><circle cx="487.5" cy="156.8" r="3.2" fill="url(#hy)"/><circle cx="473.9" cy="180.6" r="4.1" fill="url(#hy)"/><circle cx="510.9" cy="199.9" r="5" fill="url(#hy)"/><circle cx="503.9" cy="149.1" r="2.9" fill="url(#hy)"/><circle cx="487.4" cy="133.9" r="3.8" fill="url(#hy)"/><circle cx="575.8" cy="167.1" r="4.3" fill="url(#hy)"/><circle cx="597.9" cy="166.3" r="4.3" fill="url(#hy)"/><circle cx="604.2" cy="175.1" r="4.3" fill="url(#hy)"/><circle cx="635.4" cy="179.8" r="7.6" fill="url(#hy)"/><circle cx="545.1" cy="181.7" r="4.3" fill="url(#hy)"/><circle cx="571.6" cy="192.6" r="4.3" fill="url(#hy)"/><circle cx="591.1" cy="199.2" r="6.5" fill="url(#hy)"/><circle cx="611.7" cy="198.5" r="4.3" fill="url(#hy)"/><circle cx="553.1" cy="213.1" r="4.3" fill="url(#hy)"/><circle cx="568.7" cy="207.9" r="4.3" fill="url(#hy)"/><circle cx="573.6" cy="124" r="4.3" fill="url(#hy)"/><circle cx="580.3" cy="124" r="4.3" fill="url(#hy)"/><circle cx="574" cy="163.1" r="4.4" fill="url(#hy)"/><circle cx="598.1" cy="163.1" r="4.1" fill="url(#hy)"/><circle cx="604" cy="173.9" r="2.6" fill="url(#hy)"/><circle cx="633.9" cy="172.2" r="2.6" fill="url(#hy)"/><circle cx="612" cy="197.3" r="3.2" fill="url(#hy)"/><circle cx="552.9" cy="211.6" r="3.2" fill="url(#hy)"/><circle cx="569.1" cy="209" r="2.9" fill="url(#hy)"/></g>
<use href="#vor" x="449.1" y="34.5"/>
<g filter="url(#bl2)" stroke="#40100c" stroke-width="0.4" stroke-linejoin="round"><polygon points="451.3,45.8 462.2,38.1 465.9,48 462.2,54.5" fill="url(#g147)"/><polygon points="502.4,34.5 525.8,34.5 528.7,50.2 517.7,57.5 506.8,50.2" fill="url(#g149)"/><polygon points="479.8,73.5 482.2,71.3 494.4,76 496.6,85.2 489.3,88.9 481.2,82.3" fill="url(#g153)"/><polygon points="454.9,90.3 463.7,82.7 467.4,88.6 468.8,95.4" fill="url(#g155)"/><polygon points="518.5,77.2 535.2,69.6 542.1,77.9 544,79.4 540.4,80.1 527.2,84.2 519.9,81.6" fill="url(#g156)"/><polygon points="497.3,118.1 495.8,112.2 506.8,90 510.4,90.3 517.7,104.9" fill="url(#g158)"/><polygon points="555.1,52.4 564.5,44.3 574.8,54.5 572.6,58.2 556.5,60.4" fill="url(#g161)"/><polygon points="590.1,56 595.9,49.4 607.6,62.6 592.3,66.2" fill="url(#g163)"/><polygon points="563.1,85.2 568.2,80.1 582.8,79.4 591.6,88.1 590.1,94 573.3,94" fill="url(#g164)"/><polygon points="541.9,113.7 554.3,105.6 562.4,114.4 542.6,120.2" fill="url(#g165)"/><polygon points="567.5,112.2 574,107.8 578.4,118.8 576.2,123.9 570.4,116.6" fill="url(#g168)"/><polygon points="610.5,118.1 617.8,112.9 634.2,108.6 634.2,129.1 622.9,134" fill="url(#g170)"/><polygon points="459.3,128.4 482.7,130.1 484.9,133.5 481.2,139.3 470.3,140.8 461.5,134.2" fill="url(#g172)"/><polygon points="505.3,150.3 518.5,137.1 524.3,147.4 520.6,156.8 506,151.7" fill="url(#g174)"/><polygon points="488.5,159.8 495.1,150.3 503.9,151 503.1,153.9 490,160.5" fill="url(#g175)"/><polygon points="476.1,178.7 487.1,174.8 495.8,180.9 496.8,184.1 492.2,191.2" fill="url(#g176)"/><polygon points="514.1,199.2 522.8,188.2 527.9,188.2 531.6,213.1 517,206.5" fill="url(#g179)"/><polygon points="577,167.1 585.7,153.9 589.4,154.7 596.7,166.3" fill="url(#g181)"/><polygon points="605.4,175.1 620,168.5 634.2,174.4 634.2,185.3 620.8,180.9" fill="url(#g182)"/><polygon points="546.3,181.7 548.5,176.6 553.6,175.1 570.4,192.6 568.9,197 560.9,195.5 549.9,189.7" fill="url(#g185)"/><polygon points="592.3,202.8 592.3,195.5 599.6,189 610.5,198.5 607.6,199.9" fill="url(#g187)"/><polygon points="554.3,213.1 565.3,202.8 567.5,207.9 566,212.3" fill="url(#g188)"/><polygon points="574.8,124 579.1,124 577.2,125.2" fill="url(#g189)"/></g>
</g>
<text x="325" y="19" font-size="15" font-weight="bold" text-anchor="middle" fill="#222">Surface:Flux density mode (T)</text>
<text x="12.5" y="43.8" class="pl">(a)</text>
<text x="220.5" y="43.8" class="pl">(b)</text>
<text x="428.5" y="43.8" class="pl">(c)</text>
<text x="131" y="239" font-size="16.8" font-weight="bold" text-anchor="middle" xml:space="preserve">65%  Ferrite</text>
<text x="332.6" y="239" font-size="16.8" font-weight="bold" text-anchor="middle" xml:space="preserve">75%  Ferrite</text>
<text x="546.8" y="239" font-size="16.8" font-weight="bold" text-anchor="middle" xml:space="preserve">85%  Ferrite</text>
<rect x="646.7" y="34" width="5.2" height="186" fill="url(#cb)"/>
<text x="655" y="38" font-family="Liberation Sans, sans-serif" font-size="10.5" fill="#222">2</text>
<text x="655" y="59" font-family="Liberation Sans, sans-serif" font-size="10.5" fill="#222">1.8</text>
<text x="655" y="80" font-family="Liberation Sans, sans-serif" font-size="10.5" fill="#222">1.6</text>
<text x="655" y="101" font-family="Liberation Sans, sans-serif" font-size="10.5" fill="#222">1.4</text>
<text x="655" y="122.5" font-family="Liberation Sans, sans-serif" font-size="10.5" fill="#222">1.2</text>
<text x="655" y="143.5" font-family="Liberation Sans, sans-serif" font-size="10.5" fill="#222">1</text>
<text x="655" y="164.5" font-family="Liberation Sans, sans-serif" font-size="10.5" fill="#222">0.8</text>
<text x="655" y="185.5" font-family="Liberation Sans, sans-serif" font-size="10.5" fill="#222">0.6</text>
<text x="655" y="207" font-family="Liberation Sans, sans-serif" font-size="10.5" fill="#222">0.4</text>
<text x="652.3" y="27.6" font-family="Liberation Sans, sans-serif" font-size="11" fill="#222">×10<tspan dy="-4.5" font-size="8">4</tspan></text>
<path d="M17 231.5V216" stroke="#ee1c24" stroke-width="1.6"/><path d="M13.5 218.5L17 210.5L20.5 218.5Z" fill="#ee1c24"/>
<path d="M16.2 230.8H34" stroke="#1c1ce6" stroke-width="1.6"/><path d="M32.3 227.3L39.8 230.8L32.3 234.3Z" fill="#1c1ce6"/>
<text x="20.8" y="222.3" font-size="13.5" font-weight="bold" fill="#ee1c24">Y</text>
<text x="25.5" y="245.6" font-size="13.5" font-weight="bold" fill="#1c1ce6">X</text>
<rect x="107" y="280" width="558" height="450" fill="url(#bg)"/>
<rect x="175" y="454.7" width="170.8" height="213.3" fill="none" stroke="#a36ed9" stroke-width="3" stroke-dasharray="9.2 3.4"/>
<polyline points="138.7,297 200.5,487 262.4,578 324.2,650.5 386.1,673 447.9,701.5 509.8,714 571.6,719 633.5,720.2" fill="none" stroke="#8fd3f4" stroke-width="3" stroke-linejoin="round"/>
<circle cx="138.7" cy="297" r="5.8" fill="url(#mb)"/>
<circle cx="200.5" cy="487" r="5.8" fill="url(#mb)"/>
<circle cx="262.4" cy="578" r="5.8" fill="url(#mb)"/>
<circle cx="324.2" cy="650.5" r="5.8" fill="url(#mb)"/>
<circle cx="386.1" cy="673" r="5.8" fill="url(#mb)"/>
<circle cx="447.9" cy="701.5" r="5.8" fill="url(#mb)"/>
<circle cx="509.8" cy="714" r="5.8" fill="url(#mb)"/>
<circle cx="571.6" cy="719" r="5.8" fill="url(#mb)"/>
<circle cx="633.5" cy="720.2" r="5.8" fill="url(#mb)"/>
<polyline points="138.7,295 200.5,479.3 262.4,571.5 324.2,643 386.1,670 447.9,699 509.8,710.7 571.6,717 633.5,718.7" fill="none" stroke="#f0101a" stroke-width="3.4" stroke-linejoin="round"/>
<circle cx="138.7" cy="295" r="6.9" fill="url(#mr)"/>
<path d="M138.7 285V305M132.7 285h12M132.7 305h12" stroke="#f0101a" stroke-width="2.8" fill="none"/>
<circle cx="200.5" cy="479.3" r="6.9" fill="url(#mr)"/>
<path d="M200.5 464.3V494.3M194.5 464.3h12M194.5 494.3h12" stroke="#f0101a" stroke-width="2.8" fill="none"/>
<circle cx="262.4" cy="571.5" r="6.9" fill="url(#mr)"/>
<path d="M262.4 558V585M256.4 558h12M256.4 585h12" stroke="#f0101a" stroke-width="2.8" fill="none"/>
<circle cx="324.2" cy="643" r="6.9" fill="url(#mr)"/>
<path d="M324.2 627V659M318.2 627h12M318.2 659h12" stroke="#f0101a" stroke-width="2.8" fill="none"/>
<circle cx="386.1" cy="670" r="6.9" fill="url(#mr)"/>
<path d="M386.1 662V678M380.1 662h12M380.1 678h12" stroke="#f0101a" stroke-width="2.8" fill="none"/>
<circle cx="447.9" cy="699" r="6.9" fill="url(#mr)"/>
<path d="M447.9 692.5V705.5M441.9 692.5h12M441.9 705.5h12" stroke="#f0101a" stroke-width="2.8" fill="none"/>
<circle cx="509.8" cy="710.7" r="6.9" fill="url(#mr)"/>
<path d="M509.8 703.7V717.7M503.8 703.7h12M503.8 717.7h12" stroke="#f0101a" stroke-width="2.8" fill="none"/>
<circle cx="571.6" cy="717" r="6.9" fill="url(#mr)"/>
<path d="M571.6 712.5V721.5M565.6 712.5h12M565.6 721.5h12" stroke="#f0101a" stroke-width="2.8" fill="none"/>
<circle cx="633.5" cy="718.7" r="6.9" fill="url(#mr)"/>
<path d="M633.5 713.2V724.2M627.5 713.2h12M627.5 724.2h12" stroke="#f0101a" stroke-width="2.8" fill="none"/>
<polyline points="138.7,295 200.5,471 262.4,569 324.2,636 386.1,669.5 447.9,698 509.8,709.5 571.6,716.5 633.5,718" fill="none" stroke="#14c585" stroke-width="2.5" stroke-linejoin="round"/>
<circle cx="138.7" cy="295" r="5.6" fill="url(#mg)"/>
<circle cx="200.5" cy="471" r="5.6" fill="url(#mg)"/>
<circle cx="262.4" cy="569" r="5.6" fill="url(#mg)"/>
<circle cx="324.2" cy="636" r="5.6" fill="url(#mg)"/>
<circle cx="386.1" cy="669.5" r="5.6" fill="url(#mg)"/>
<circle cx="447.9" cy="698" r="5.6" fill="url(#mg)"/>
<circle cx="509.8" cy="709.5" r="5.6" fill="url(#mg)"/>
<circle cx="571.6" cy="716.5" r="5.6" fill="url(#mg)"/>
<circle cx="633.5" cy="718" r="5.6" fill="url(#mg)"/>
<rect x="107.3" y="280.4" width="557.7" height="449.4" fill="none" stroke="#000" stroke-width="3.4"/>
<path d="M138.7 730V721.5" stroke="#000" stroke-width="3"/>
<text x="138.7" y="759.5" class="tk" text-anchor="middle">65</text>
<path d="M200.5 730V721.5" stroke="#000" stroke-width="3"/>
<text x="200.5" y="759.5" class="tk" text-anchor="middle">67</text>
<path d="M262.4 730V721.5" stroke="#000" stroke-width="3"/>
<text x="262.4" y="759.5" class="tk" text-anchor="middle">69</text>
<path d="M324.2 730V721.5" stroke="#000" stroke-width="3"/>
<text x="324.2" y="759.5" class="tk" text-anchor="middle">71</text>
<path d="M386.1 730V721.5" stroke="#000" stroke-width="3"/>
<text x="386.1" y="759.5" class="tk" text-anchor="middle">73</text>
<path d="M447.9 730V721.5" stroke="#000" stroke-width="3"/>
<text x="447.9" y="759.5" class="tk" text-anchor="middle">75</text>
<path d="M509.8 730V721.5" stroke="#000" stroke-width="3"/>
<text x="509.8" y="759.5" class="tk" text-anchor="middle">79</text>
<path d="M571.6 730V721.5" stroke="#000" stroke-width="3"/>
<text x="571.6" y="759.5" class="tk" text-anchor="middle">82</text>
<path d="M633.5 730V721.5" stroke="#000" stroke-width="3"/>
<text x="633.5" y="759.5" class="tk" text-anchor="middle">85</text>
<path d="M108 693.7H115.8" stroke="#000" stroke-width="3.1"/>
<text x="97.3" y="701.7" class="tk" text-anchor="end">0.220</text>
<path d="M108 591.5H115.8" stroke="#000" stroke-width="3.1"/>
<text x="97.3" y="599.5" class="tk" text-anchor="end">0.221</text>
<path d="M108 489.3H115.8" stroke="#000" stroke-width="3.1"/>
<text x="97.3" y="497.3" class="tk" text-anchor="end">0.222</text>
<path d="M108 387.1H115.8" stroke="#000" stroke-width="3.1"/>
<text x="97.3" y="395.1" class="tk" text-anchor="end">0.223</text>
<path d="M108 284.9H115.8" stroke="#000" stroke-width="3.1"/>
<text x="97.3" y="292.9" class="tk" text-anchor="end">0.224</text>
<text x="385.3" y="791.5" font-size="25.2" font-weight="bold" text-anchor="middle">Ferrite phase fraction (%)</text>
<text transform="translate(30.5,509.8) rotate(-90)" font-size="25.6" font-weight="bold" text-anchor="middle">Inductive reactance (Ω)</text>
<text x="12.3" y="280" font-size="17.5" font-weight="bold" letter-spacing="0.8">(d)</text>
<path d="M442 293H473.5" stroke="#f0101a" stroke-width="3.8"/>
<circle cx="458.5" cy="293" r="7" fill="url(#mr)"/>
<text x="482" y="298.5" font-size="17" font-weight="bold" fill="#f0101a">Average</text>
<path d="M442 309.5H473.5" stroke="#8fd3f4" stroke-width="2.8"/>
<circle cx="458.5" cy="309.5" r="5.3" fill="url(#mb)"/>
<text x="482" y="314.5" font-size="14.5" font-weight="bold" fill="#8fd3f4">Q235</text>
<path d="M442 325.3H473.5" stroke="#14c585" stroke-width="2.8"/>
<circle cx="458.5" cy="325.3" r="5.3" fill="url(#mg)"/>
<text x="482" y="330.3" font-size="14.5" font-weight="bold" fill="#14c585">Q355</text>
<path d="M353.8 569.6C355 548 368 534 385.3 530.9L385.3 523.7L409.4 532.9L385.3 550.6L385.3 543.4C371 546 360.5 556 353.8 569.6Z" fill="#b48be0"/>
<rect x="413.1" y="348.1" width="239.39999999999998" height="229.29999999999995" fill="url(#bg2)"/>
<clipPath id="ic"><rect x="413.1" y="348.1" width="239.4" height="229.3"/></clipPath>
<g clip-path="url(#ic)">
<polyline points="368.2,212 448.8,388.5 529.4,474 610,544.5 690.6,565" fill="none" stroke="#a4dbf7" stroke-width="1.4"/>
<polyline points="368.2,203 448.8,376 529.4,466.7 610,530 690.6,560.5" fill="none" stroke="#14c585" stroke-width="1.3"/>
<polyline points="368.2,210 448.8,383.8 529.4,470.5 610,537.5 690.6,563" fill="none" stroke="#f0101a" stroke-width="1.9"/>
<path d="M448.8 369.6V398M446.3 369.6h5M446.3 398h5" stroke="#f0101a" stroke-width="1.7" fill="none"/>
<circle cx="448.8" cy="383.8" r="2.4" fill="#ff8a8a" stroke="#f0101a" stroke-width="1.2"/>
<path d="M529.4 458V483M526.9 458h5M526.9 483h5" stroke="#f0101a" stroke-width="1.7" fill="none"/>
<circle cx="529.4" cy="470.5" r="2.4" fill="#ff8a8a" stroke="#f0101a" stroke-width="1.2"/>
<path d="M610 522.3V553.1M607.5 522.3h5M607.5 553.1h5" stroke="#f0101a" stroke-width="1.7" fill="none"/>
<circle cx="610" cy="537.7" r="2.4" fill="#ff8a8a" stroke="#f0101a" stroke-width="1.2"/>
</g>
<rect x="413.1" y="348.1" width="239.39999999999998" height="229.29999999999995" fill="none" stroke="#000" stroke-width="1.7"/>
<path d="M448.8 577.4v-4.5" stroke="#000" stroke-width="1.5"/>
<text x="448.8" y="590" font-size="11" font-weight="bold" text-anchor="middle">67</text>
<path d="M529.4 577.4v-4.5" stroke="#000" stroke-width="1.5"/>
<text x="529.4" y="590" font-size="11" font-weight="bold" text-anchor="middle">69</text>
<path d="M610 577.4v-4.5" stroke="#000" stroke-width="1.5"/>
<text x="610" y="590" font-size="11" font-weight="bold" text-anchor="middle">71</text>
<path d="M413.1 490h4" stroke="#000" stroke-width="1.6"/>
<text x="409.3" y="493.7" font-size="11.2" font-weight="bold" text-anchor="end">0.221</text>
<path d="M413.1 393.5h4" stroke="#000" stroke-width="1.6"/>
<text x="409.3" y="397.2" font-size="11.2" font-weight="bold" text-anchor="end">0.222</text>
<text x="532.5" y="597.5" font-size="11" font-weight="bold" text-anchor="middle">Ferrite phase fraction (%)</text>
<text transform="translate(378.4,462.8) rotate(-90)" font-size="10.95" font-weight="bold" text-anchor="middle">Inductive reactance (Ω)</text>
</svg>
</body></html>
